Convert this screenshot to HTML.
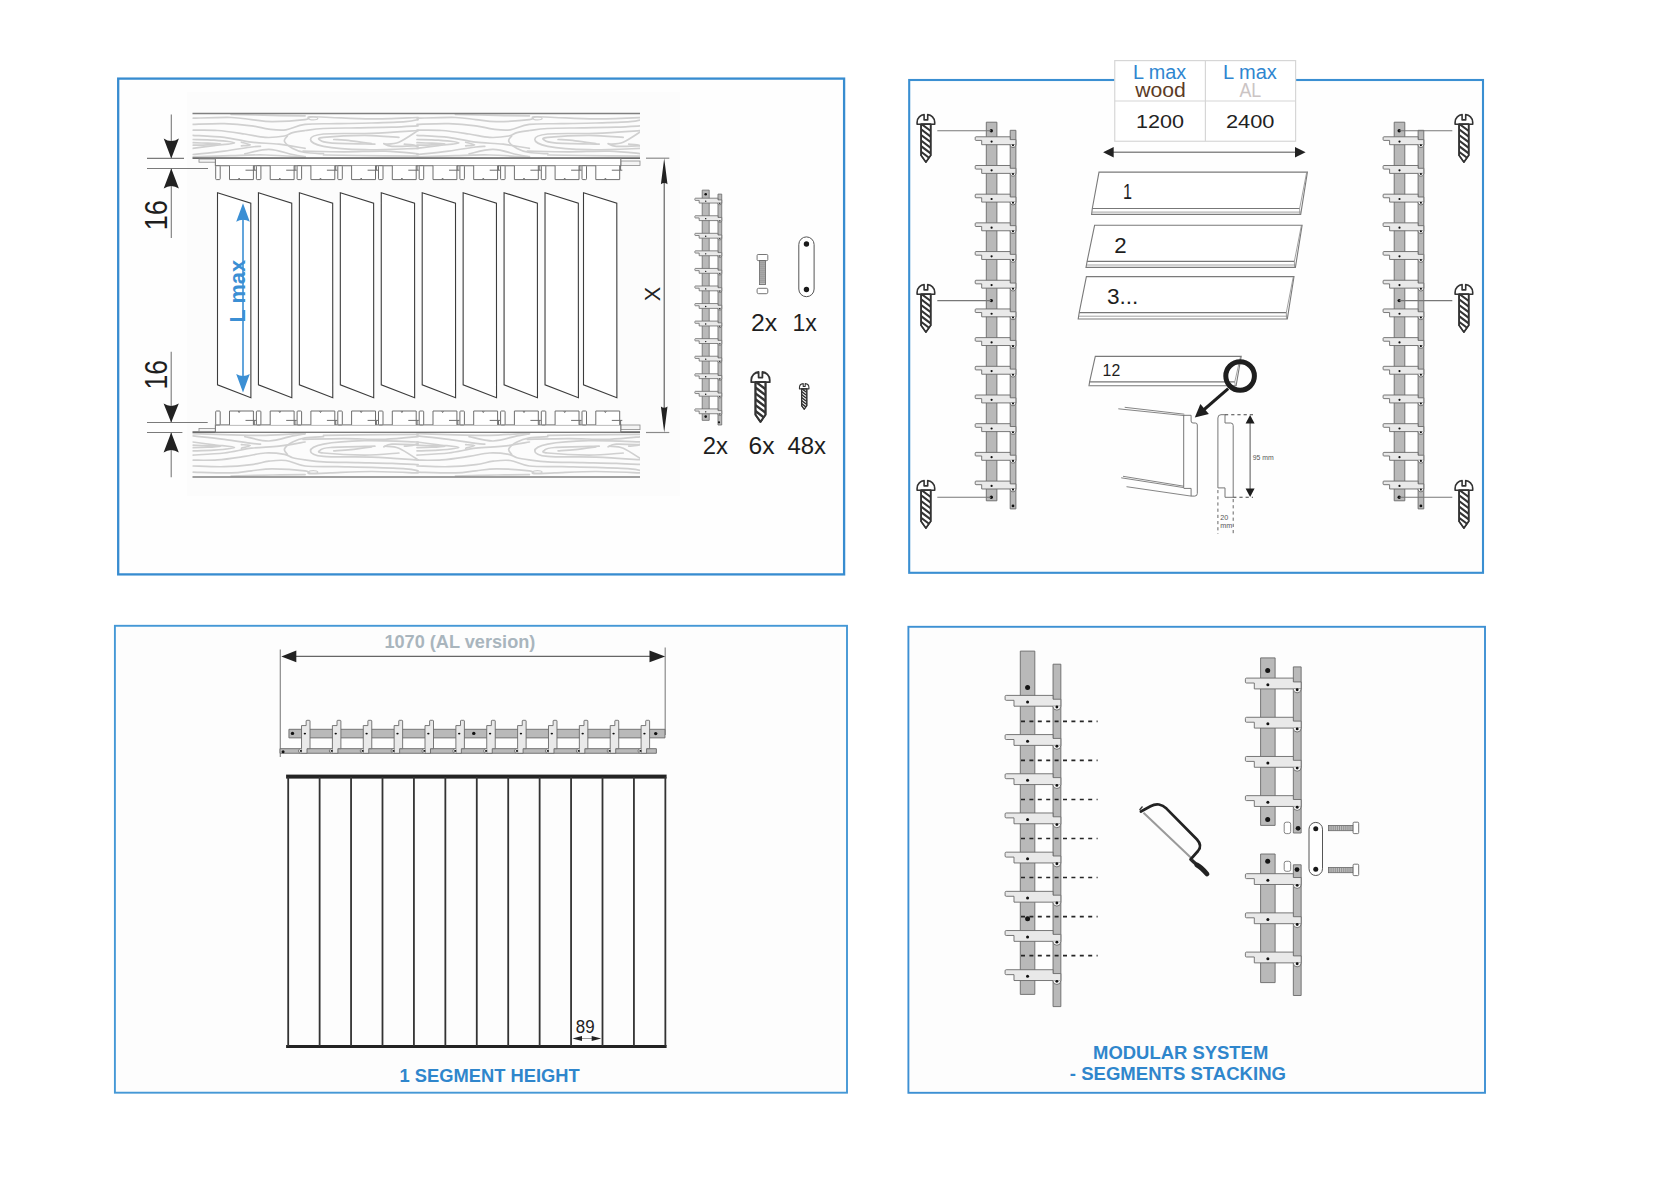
<!DOCTYPE html><html><head><meta charset="utf-8"><title>Assembly</title><style>html,body{margin:0;padding:0;background:#fff;width:1680px;height:1188px;overflow:hidden;}svg{display:block;font-family:"Liberation Sans",sans-serif;}</style></head><body><svg width="1680" height="1188" viewBox="0 0 1680 1188"><rect x="0" y="0" width="1680" height="1188" fill="#ffffff"/><rect x="118.2" y="78.6" width="725.9" height="495.8" fill="#fefefe" stroke="#378cd0" stroke-width="2.3" /><rect x="909.2" y="80" width="573.8" height="492.8" fill="#fefefe" stroke="#3a8fd2" stroke-width="2.1" /><rect x="114.9" y="625.8" width="732.1" height="466.9" fill="#fdfdfd" stroke="#4598d6" stroke-width="1.9" /><rect x="908.4" y="626.8" width="576.6" height="466" fill="#fdfdfd" stroke="#3d90d3" stroke-width="1.9" /><rect x="187" y="92" width="493" height="404" fill="#fcfcfc" stroke="none" stroke-width="1" /><g transform="translate(0,113.2)" ><g clip-path="url(#wclip)"><g transform="translate(192.5,0)" ><path d="M0.2,5 C6.6,4.88 28.8,4.07 38.6,4.3 C48.4,4.53 52.15,5.72 59,6.4 C65.85,7.08 70.77,8.4 79.7,8.4 C88.63,8.4 106.33,7.2 112.6,6.4 C118.87,5.6 113.08,3.95 117.3,3.6 C121.52,3.25 127.62,3.95 137.9,4.3 C148.18,4.65 164.38,5.7 179,5.7 C193.62,5.7 217.83,4.53 225.6,4.3" fill="none" stroke="#d0d0d0" stroke-width="1.7" stroke-linecap="round"/><path d="M38.6,1.2 C45.5,1.37 67.67,1.97 80,2.2 C92.33,2.43 107.17,2.53 112.6,2.6" fill="none" stroke="#d0d0d0" stroke-width="1.7" stroke-linecap="round"/><path d="M0.2,11.2 C5.45,11.08 21.9,10.27 31.7,10.5 C41.5,10.73 51.57,11.68 59,12.6 C66.43,13.52 70.57,15.32 76.3,16 C82.03,16.68 87.35,17.5 93.4,16.7 C99.45,15.9 104.05,12.23 112.6,11.2 C121.15,10.17 133.63,10.73 144.7,10.5 C155.77,10.27 167.58,10.15 179,9.8 C190.42,9.45 205.43,8.97 213.2,8.4 C220.97,7.83 223.53,6.73 225.6,6.4" fill="none" stroke="#d0d0d0" stroke-width="1.7" stroke-linecap="round"/><path d="M0.2,17 C4.33,17.05 16.32,16.67 25,17.3 C33.68,17.93 44.33,19.65 52.3,20.8 C60.27,21.95 66.18,23.87 72.8,24.2 C79.42,24.53 87.43,23.6 92,22.8 C96.57,22 96.77,20.32 100.2,19.4 C103.63,18.48 107.47,17.98 112.6,17.3 C117.73,16.62 122.22,15.75 131,15.3 C139.78,14.85 153.88,14.83 165.3,14.6 C176.72,14.37 189.45,14.23 199.5,13.9 C209.55,13.57 221.25,12.82 225.6,12.6" fill="none" stroke="#d0d0d0" stroke-width="1.7" stroke-linecap="round"/><path d="M0.2,22.1 C5.45,22.45 21.9,23.05 31.7,24.2 C41.5,25.35 49.87,27.87 59,29 C68.13,30.13 77.57,29.97 86.5,31 C95.43,32.03 108.25,34.5 112.6,35.2" fill="none" stroke="#d0d0d0" stroke-width="1.7" stroke-linecap="round"/><path d="M0.2,26.3 C3.75,26.42 14.53,26.43 21.5,27 C28.47,27.57 42,28.8 42,29.7 C42,30.6 28.47,31.48 21.5,32.4 C14.53,33.32 3.75,34.73 0.2,35.2" fill="none" stroke="#d0d0d0" stroke-width="1.7" stroke-linecap="round"/><path d="M0.2,29.5 C2.67,29.58 10.37,29.82 15,30 C19.63,30.18 28,30.33 28,30.6 C28,30.87 19.63,31.37 15,31.6 C10.37,31.83 2.67,31.93 0.2,32" fill="none" stroke="#d0d0d0" stroke-width="1.7" stroke-linecap="round"/><path d="M0.2,41.3 C5.45,40.73 21.9,39.15 31.7,37.9 C41.5,36.65 52.95,34.6 59,33.8 C65.05,33 66.5,33.22 68,33.1" fill="none" stroke="#d0d0d0" stroke-width="1.7" stroke-linecap="round"/><path d="M48.9,29 C50.38,29.45 57.8,31.1 57.8,31.7 C57.8,32.3 50.38,32.45 48.9,32.6" fill="none" stroke="#d0d0d0" stroke-width="1.7" stroke-linecap="round"/><path d="M52.3,40.6 C56.3,39.87 68.32,36.08 76.3,36.2 C84.28,36.32 94.15,40.1 100.2,41.3 C106.25,42.5 110.53,43.05 112.6,43.4" fill="none" stroke="#d0d0d0" stroke-width="1.7" stroke-linecap="round"/><path d="M0.2,43.6 C6.6,43.4 26.5,42.7 38.6,42.4 C50.7,42.1 60.47,41.53 72.8,41.8 C85.13,42.07 105.97,43.63 112.6,44" fill="none" stroke="#d0d0d0" stroke-width="1.7" stroke-linecap="round"/><path d="M94.8,22.8 C94.33,23.72 91.1,26.23 92,28.3 C92.9,30.37 96.77,33.37 100.2,35.2 C103.63,37.03 107.47,38.42 112.6,39.3 C117.73,40.18 127.93,40.3 131,40.5" fill="none" stroke="#d0d0d0" stroke-width="1.7" stroke-linecap="round"/><path d="M225.6,17.3 C217.83,17.77 194.77,19.52 179,20.1 C163.23,20.68 141.17,19.77 131,20.8 C120.83,21.83 118,24.25 118,26.3 C118,28.35 121.98,31.4 131,33.1 C140.02,34.8 156.33,36.15 172.1,36.5 C187.87,36.85 216.68,35.42 225.6,35.2" fill="none" stroke="#d0d0d0" stroke-width="1.7" stroke-linecap="round"/><path d="M206.4,24.2 C200.68,23.85 184.67,22.1 172.1,22.1 C159.53,22.1 138.42,23.4 131,24.2 C123.58,25 126.45,25.98 127.6,26.9 C128.75,27.82 128.77,29.02 137.9,29.7 C147.03,30.38 174.98,30.78 182.4,31" fill="none" stroke="#d0d0d0" stroke-width="1.7" stroke-linecap="round"/><path d="M141.3,26.3 C144.15,26.52 152.12,26.92 158.4,27.6 C164.68,28.28 175.57,29.93 179,30.4" fill="none" stroke="#d0d0d0" stroke-width="1.7" stroke-linecap="round"/><path d="M192.7,31 C194.98,30.67 200.92,31.28 206.4,29 C211.88,26.72 222.4,19.25 225.6,17.3" fill="none" stroke="#d0d0d0" stroke-width="1.7" stroke-linecap="round"/><path d="M191.3,30.4 C192.67,30.85 193.78,32.77 199.5,33.1 C205.22,33.43 221.25,32.52 225.6,32.4" fill="none" stroke="#d0d0d0" stroke-width="1.7" stroke-linecap="round"/><path d="M211.9,31 C213.27,31.12 217.82,31.23 220.1,31.7 C222.38,32.17 224.68,33.45 225.6,33.8" fill="none" stroke="#d0d0d0" stroke-width="1.7" stroke-linecap="round"/><path d="M110.5,37.9 C117.35,38.02 137.9,38.6 151.6,38.6 C165.3,38.6 180.37,37.57 192.7,37.9 C205.03,38.23 220.12,40.15 225.6,40.6" fill="none" stroke="#d0d0d0" stroke-width="1.7" stroke-linecap="round"/><path d="M131,41.8 C136.72,41.88 149.53,42.12 165.3,42.3 C181.07,42.48 215.55,42.8 225.6,42.9" fill="none" stroke="#d0d0d0" stroke-width="1.7" stroke-linecap="round"/><ellipse cx="120.8" cy="5.2" rx="4.5" ry="1.4" fill="none" stroke="#d0d0d0" stroke-width="1.2"/></g><g transform="translate(416.8,0)" ><path d="M0.2,5 C6.6,4.88 28.8,4.07 38.6,4.3 C48.4,4.53 52.15,5.72 59,6.4 C65.85,7.08 70.77,8.4 79.7,8.4 C88.63,8.4 106.33,7.2 112.6,6.4 C118.87,5.6 113.08,3.95 117.3,3.6 C121.52,3.25 127.62,3.95 137.9,4.3 C148.18,4.65 164.38,5.7 179,5.7 C193.62,5.7 217.83,4.53 225.6,4.3" fill="none" stroke="#d0d0d0" stroke-width="1.7" stroke-linecap="round"/><path d="M38.6,1.2 C45.5,1.37 67.67,1.97 80,2.2 C92.33,2.43 107.17,2.53 112.6,2.6" fill="none" stroke="#d0d0d0" stroke-width="1.7" stroke-linecap="round"/><path d="M0.2,11.2 C5.45,11.08 21.9,10.27 31.7,10.5 C41.5,10.73 51.57,11.68 59,12.6 C66.43,13.52 70.57,15.32 76.3,16 C82.03,16.68 87.35,17.5 93.4,16.7 C99.45,15.9 104.05,12.23 112.6,11.2 C121.15,10.17 133.63,10.73 144.7,10.5 C155.77,10.27 167.58,10.15 179,9.8 C190.42,9.45 205.43,8.97 213.2,8.4 C220.97,7.83 223.53,6.73 225.6,6.4" fill="none" stroke="#d0d0d0" stroke-width="1.7" stroke-linecap="round"/><path d="M0.2,17 C4.33,17.05 16.32,16.67 25,17.3 C33.68,17.93 44.33,19.65 52.3,20.8 C60.27,21.95 66.18,23.87 72.8,24.2 C79.42,24.53 87.43,23.6 92,22.8 C96.57,22 96.77,20.32 100.2,19.4 C103.63,18.48 107.47,17.98 112.6,17.3 C117.73,16.62 122.22,15.75 131,15.3 C139.78,14.85 153.88,14.83 165.3,14.6 C176.72,14.37 189.45,14.23 199.5,13.9 C209.55,13.57 221.25,12.82 225.6,12.6" fill="none" stroke="#d0d0d0" stroke-width="1.7" stroke-linecap="round"/><path d="M0.2,22.1 C5.45,22.45 21.9,23.05 31.7,24.2 C41.5,25.35 49.87,27.87 59,29 C68.13,30.13 77.57,29.97 86.5,31 C95.43,32.03 108.25,34.5 112.6,35.2" fill="none" stroke="#d0d0d0" stroke-width="1.7" stroke-linecap="round"/><path d="M0.2,26.3 C3.75,26.42 14.53,26.43 21.5,27 C28.47,27.57 42,28.8 42,29.7 C42,30.6 28.47,31.48 21.5,32.4 C14.53,33.32 3.75,34.73 0.2,35.2" fill="none" stroke="#d0d0d0" stroke-width="1.7" stroke-linecap="round"/><path d="M0.2,29.5 C2.67,29.58 10.37,29.82 15,30 C19.63,30.18 28,30.33 28,30.6 C28,30.87 19.63,31.37 15,31.6 C10.37,31.83 2.67,31.93 0.2,32" fill="none" stroke="#d0d0d0" stroke-width="1.7" stroke-linecap="round"/><path d="M0.2,41.3 C5.45,40.73 21.9,39.15 31.7,37.9 C41.5,36.65 52.95,34.6 59,33.8 C65.05,33 66.5,33.22 68,33.1" fill="none" stroke="#d0d0d0" stroke-width="1.7" stroke-linecap="round"/><path d="M48.9,29 C50.38,29.45 57.8,31.1 57.8,31.7 C57.8,32.3 50.38,32.45 48.9,32.6" fill="none" stroke="#d0d0d0" stroke-width="1.7" stroke-linecap="round"/><path d="M52.3,40.6 C56.3,39.87 68.32,36.08 76.3,36.2 C84.28,36.32 94.15,40.1 100.2,41.3 C106.25,42.5 110.53,43.05 112.6,43.4" fill="none" stroke="#d0d0d0" stroke-width="1.7" stroke-linecap="round"/><path d="M0.2,43.6 C6.6,43.4 26.5,42.7 38.6,42.4 C50.7,42.1 60.47,41.53 72.8,41.8 C85.13,42.07 105.97,43.63 112.6,44" fill="none" stroke="#d0d0d0" stroke-width="1.7" stroke-linecap="round"/><path d="M94.8,22.8 C94.33,23.72 91.1,26.23 92,28.3 C92.9,30.37 96.77,33.37 100.2,35.2 C103.63,37.03 107.47,38.42 112.6,39.3 C117.73,40.18 127.93,40.3 131,40.5" fill="none" stroke="#d0d0d0" stroke-width="1.7" stroke-linecap="round"/><path d="M225.6,17.3 C217.83,17.77 194.77,19.52 179,20.1 C163.23,20.68 141.17,19.77 131,20.8 C120.83,21.83 118,24.25 118,26.3 C118,28.35 121.98,31.4 131,33.1 C140.02,34.8 156.33,36.15 172.1,36.5 C187.87,36.85 216.68,35.42 225.6,35.2" fill="none" stroke="#d0d0d0" stroke-width="1.7" stroke-linecap="round"/><path d="M206.4,24.2 C200.68,23.85 184.67,22.1 172.1,22.1 C159.53,22.1 138.42,23.4 131,24.2 C123.58,25 126.45,25.98 127.6,26.9 C128.75,27.82 128.77,29.02 137.9,29.7 C147.03,30.38 174.98,30.78 182.4,31" fill="none" stroke="#d0d0d0" stroke-width="1.7" stroke-linecap="round"/><path d="M141.3,26.3 C144.15,26.52 152.12,26.92 158.4,27.6 C164.68,28.28 175.57,29.93 179,30.4" fill="none" stroke="#d0d0d0" stroke-width="1.7" stroke-linecap="round"/><path d="M192.7,31 C194.98,30.67 200.92,31.28 206.4,29 C211.88,26.72 222.4,19.25 225.6,17.3" fill="none" stroke="#d0d0d0" stroke-width="1.7" stroke-linecap="round"/><path d="M191.3,30.4 C192.67,30.85 193.78,32.77 199.5,33.1 C205.22,33.43 221.25,32.52 225.6,32.4" fill="none" stroke="#d0d0d0" stroke-width="1.7" stroke-linecap="round"/><path d="M211.9,31 C213.27,31.12 217.82,31.23 220.1,31.7 C222.38,32.17 224.68,33.45 225.6,33.8" fill="none" stroke="#d0d0d0" stroke-width="1.7" stroke-linecap="round"/><path d="M110.5,37.9 C117.35,38.02 137.9,38.6 151.6,38.6 C165.3,38.6 180.37,37.57 192.7,37.9 C205.03,38.23 220.12,40.15 225.6,40.6" fill="none" stroke="#d0d0d0" stroke-width="1.7" stroke-linecap="round"/><path d="M131,41.8 C136.72,41.88 149.53,42.12 165.3,42.3 C181.07,42.48 215.55,42.8 225.6,42.9" fill="none" stroke="#d0d0d0" stroke-width="1.7" stroke-linecap="round"/><ellipse cx="120.8" cy="5.2" rx="4.5" ry="1.4" fill="none" stroke="#d0d0d0" stroke-width="1.2"/></g></g><rect x="192.5" y="0" width="447.5" height="45" fill="none" stroke="none" stroke-width="1" /><clipPath id="wclip"><rect x="192.5" y="0" width="447.5" height="45"/></clipPath><path d="M192.5,0.3 H640" fill="none" stroke="#808080" stroke-width="1.5" /><path d="M192.5,45 H640" fill="none" stroke="#6a6a6a" stroke-width="1.7" /></g><g transform="translate(0,477.2) scale(1,-1)" ><g clip-path="url(#wclip)"><g transform="translate(192.5,0)" ><path d="M0.2,5 C6.6,4.88 28.8,4.07 38.6,4.3 C48.4,4.53 52.15,5.72 59,6.4 C65.85,7.08 70.77,8.4 79.7,8.4 C88.63,8.4 106.33,7.2 112.6,6.4 C118.87,5.6 113.08,3.95 117.3,3.6 C121.52,3.25 127.62,3.95 137.9,4.3 C148.18,4.65 164.38,5.7 179,5.7 C193.62,5.7 217.83,4.53 225.6,4.3" fill="none" stroke="#d0d0d0" stroke-width="1.7" stroke-linecap="round"/><path d="M38.6,1.2 C45.5,1.37 67.67,1.97 80,2.2 C92.33,2.43 107.17,2.53 112.6,2.6" fill="none" stroke="#d0d0d0" stroke-width="1.7" stroke-linecap="round"/><path d="M0.2,11.2 C5.45,11.08 21.9,10.27 31.7,10.5 C41.5,10.73 51.57,11.68 59,12.6 C66.43,13.52 70.57,15.32 76.3,16 C82.03,16.68 87.35,17.5 93.4,16.7 C99.45,15.9 104.05,12.23 112.6,11.2 C121.15,10.17 133.63,10.73 144.7,10.5 C155.77,10.27 167.58,10.15 179,9.8 C190.42,9.45 205.43,8.97 213.2,8.4 C220.97,7.83 223.53,6.73 225.6,6.4" fill="none" stroke="#d0d0d0" stroke-width="1.7" stroke-linecap="round"/><path d="M0.2,17 C4.33,17.05 16.32,16.67 25,17.3 C33.68,17.93 44.33,19.65 52.3,20.8 C60.27,21.95 66.18,23.87 72.8,24.2 C79.42,24.53 87.43,23.6 92,22.8 C96.57,22 96.77,20.32 100.2,19.4 C103.63,18.48 107.47,17.98 112.6,17.3 C117.73,16.62 122.22,15.75 131,15.3 C139.78,14.85 153.88,14.83 165.3,14.6 C176.72,14.37 189.45,14.23 199.5,13.9 C209.55,13.57 221.25,12.82 225.6,12.6" fill="none" stroke="#d0d0d0" stroke-width="1.7" stroke-linecap="round"/><path d="M0.2,22.1 C5.45,22.45 21.9,23.05 31.7,24.2 C41.5,25.35 49.87,27.87 59,29 C68.13,30.13 77.57,29.97 86.5,31 C95.43,32.03 108.25,34.5 112.6,35.2" fill="none" stroke="#d0d0d0" stroke-width="1.7" stroke-linecap="round"/><path d="M0.2,26.3 C3.75,26.42 14.53,26.43 21.5,27 C28.47,27.57 42,28.8 42,29.7 C42,30.6 28.47,31.48 21.5,32.4 C14.53,33.32 3.75,34.73 0.2,35.2" fill="none" stroke="#d0d0d0" stroke-width="1.7" stroke-linecap="round"/><path d="M0.2,29.5 C2.67,29.58 10.37,29.82 15,30 C19.63,30.18 28,30.33 28,30.6 C28,30.87 19.63,31.37 15,31.6 C10.37,31.83 2.67,31.93 0.2,32" fill="none" stroke="#d0d0d0" stroke-width="1.7" stroke-linecap="round"/><path d="M0.2,41.3 C5.45,40.73 21.9,39.15 31.7,37.9 C41.5,36.65 52.95,34.6 59,33.8 C65.05,33 66.5,33.22 68,33.1" fill="none" stroke="#d0d0d0" stroke-width="1.7" stroke-linecap="round"/><path d="M48.9,29 C50.38,29.45 57.8,31.1 57.8,31.7 C57.8,32.3 50.38,32.45 48.9,32.6" fill="none" stroke="#d0d0d0" stroke-width="1.7" stroke-linecap="round"/><path d="M52.3,40.6 C56.3,39.87 68.32,36.08 76.3,36.2 C84.28,36.32 94.15,40.1 100.2,41.3 C106.25,42.5 110.53,43.05 112.6,43.4" fill="none" stroke="#d0d0d0" stroke-width="1.7" stroke-linecap="round"/><path d="M0.2,43.6 C6.6,43.4 26.5,42.7 38.6,42.4 C50.7,42.1 60.47,41.53 72.8,41.8 C85.13,42.07 105.97,43.63 112.6,44" fill="none" stroke="#d0d0d0" stroke-width="1.7" stroke-linecap="round"/><path d="M94.8,22.8 C94.33,23.72 91.1,26.23 92,28.3 C92.9,30.37 96.77,33.37 100.2,35.2 C103.63,37.03 107.47,38.42 112.6,39.3 C117.73,40.18 127.93,40.3 131,40.5" fill="none" stroke="#d0d0d0" stroke-width="1.7" stroke-linecap="round"/><path d="M225.6,17.3 C217.83,17.77 194.77,19.52 179,20.1 C163.23,20.68 141.17,19.77 131,20.8 C120.83,21.83 118,24.25 118,26.3 C118,28.35 121.98,31.4 131,33.1 C140.02,34.8 156.33,36.15 172.1,36.5 C187.87,36.85 216.68,35.42 225.6,35.2" fill="none" stroke="#d0d0d0" stroke-width="1.7" stroke-linecap="round"/><path d="M206.4,24.2 C200.68,23.85 184.67,22.1 172.1,22.1 C159.53,22.1 138.42,23.4 131,24.2 C123.58,25 126.45,25.98 127.6,26.9 C128.75,27.82 128.77,29.02 137.9,29.7 C147.03,30.38 174.98,30.78 182.4,31" fill="none" stroke="#d0d0d0" stroke-width="1.7" stroke-linecap="round"/><path d="M141.3,26.3 C144.15,26.52 152.12,26.92 158.4,27.6 C164.68,28.28 175.57,29.93 179,30.4" fill="none" stroke="#d0d0d0" stroke-width="1.7" stroke-linecap="round"/><path d="M192.7,31 C194.98,30.67 200.92,31.28 206.4,29 C211.88,26.72 222.4,19.25 225.6,17.3" fill="none" stroke="#d0d0d0" stroke-width="1.7" stroke-linecap="round"/><path d="M191.3,30.4 C192.67,30.85 193.78,32.77 199.5,33.1 C205.22,33.43 221.25,32.52 225.6,32.4" fill="none" stroke="#d0d0d0" stroke-width="1.7" stroke-linecap="round"/><path d="M211.9,31 C213.27,31.12 217.82,31.23 220.1,31.7 C222.38,32.17 224.68,33.45 225.6,33.8" fill="none" stroke="#d0d0d0" stroke-width="1.7" stroke-linecap="round"/><path d="M110.5,37.9 C117.35,38.02 137.9,38.6 151.6,38.6 C165.3,38.6 180.37,37.57 192.7,37.9 C205.03,38.23 220.12,40.15 225.6,40.6" fill="none" stroke="#d0d0d0" stroke-width="1.7" stroke-linecap="round"/><path d="M131,41.8 C136.72,41.88 149.53,42.12 165.3,42.3 C181.07,42.48 215.55,42.8 225.6,42.9" fill="none" stroke="#d0d0d0" stroke-width="1.7" stroke-linecap="round"/><ellipse cx="120.8" cy="5.2" rx="4.5" ry="1.4" fill="none" stroke="#d0d0d0" stroke-width="1.2"/></g><g transform="translate(416.8,0)" ><path d="M0.2,5 C6.6,4.88 28.8,4.07 38.6,4.3 C48.4,4.53 52.15,5.72 59,6.4 C65.85,7.08 70.77,8.4 79.7,8.4 C88.63,8.4 106.33,7.2 112.6,6.4 C118.87,5.6 113.08,3.95 117.3,3.6 C121.52,3.25 127.62,3.95 137.9,4.3 C148.18,4.65 164.38,5.7 179,5.7 C193.62,5.7 217.83,4.53 225.6,4.3" fill="none" stroke="#d0d0d0" stroke-width="1.7" stroke-linecap="round"/><path d="M38.6,1.2 C45.5,1.37 67.67,1.97 80,2.2 C92.33,2.43 107.17,2.53 112.6,2.6" fill="none" stroke="#d0d0d0" stroke-width="1.7" stroke-linecap="round"/><path d="M0.2,11.2 C5.45,11.08 21.9,10.27 31.7,10.5 C41.5,10.73 51.57,11.68 59,12.6 C66.43,13.52 70.57,15.32 76.3,16 C82.03,16.68 87.35,17.5 93.4,16.7 C99.45,15.9 104.05,12.23 112.6,11.2 C121.15,10.17 133.63,10.73 144.7,10.5 C155.77,10.27 167.58,10.15 179,9.8 C190.42,9.45 205.43,8.97 213.2,8.4 C220.97,7.83 223.53,6.73 225.6,6.4" fill="none" stroke="#d0d0d0" stroke-width="1.7" stroke-linecap="round"/><path d="M0.2,17 C4.33,17.05 16.32,16.67 25,17.3 C33.68,17.93 44.33,19.65 52.3,20.8 C60.27,21.95 66.18,23.87 72.8,24.2 C79.42,24.53 87.43,23.6 92,22.8 C96.57,22 96.77,20.32 100.2,19.4 C103.63,18.48 107.47,17.98 112.6,17.3 C117.73,16.62 122.22,15.75 131,15.3 C139.78,14.85 153.88,14.83 165.3,14.6 C176.72,14.37 189.45,14.23 199.5,13.9 C209.55,13.57 221.25,12.82 225.6,12.6" fill="none" stroke="#d0d0d0" stroke-width="1.7" stroke-linecap="round"/><path d="M0.2,22.1 C5.45,22.45 21.9,23.05 31.7,24.2 C41.5,25.35 49.87,27.87 59,29 C68.13,30.13 77.57,29.97 86.5,31 C95.43,32.03 108.25,34.5 112.6,35.2" fill="none" stroke="#d0d0d0" stroke-width="1.7" stroke-linecap="round"/><path d="M0.2,26.3 C3.75,26.42 14.53,26.43 21.5,27 C28.47,27.57 42,28.8 42,29.7 C42,30.6 28.47,31.48 21.5,32.4 C14.53,33.32 3.75,34.73 0.2,35.2" fill="none" stroke="#d0d0d0" stroke-width="1.7" stroke-linecap="round"/><path d="M0.2,29.5 C2.67,29.58 10.37,29.82 15,30 C19.63,30.18 28,30.33 28,30.6 C28,30.87 19.63,31.37 15,31.6 C10.37,31.83 2.67,31.93 0.2,32" fill="none" stroke="#d0d0d0" stroke-width="1.7" stroke-linecap="round"/><path d="M0.2,41.3 C5.45,40.73 21.9,39.15 31.7,37.9 C41.5,36.65 52.95,34.6 59,33.8 C65.05,33 66.5,33.22 68,33.1" fill="none" stroke="#d0d0d0" stroke-width="1.7" stroke-linecap="round"/><path d="M48.9,29 C50.38,29.45 57.8,31.1 57.8,31.7 C57.8,32.3 50.38,32.45 48.9,32.6" fill="none" stroke="#d0d0d0" stroke-width="1.7" stroke-linecap="round"/><path d="M52.3,40.6 C56.3,39.87 68.32,36.08 76.3,36.2 C84.28,36.32 94.15,40.1 100.2,41.3 C106.25,42.5 110.53,43.05 112.6,43.4" fill="none" stroke="#d0d0d0" stroke-width="1.7" stroke-linecap="round"/><path d="M0.2,43.6 C6.6,43.4 26.5,42.7 38.6,42.4 C50.7,42.1 60.47,41.53 72.8,41.8 C85.13,42.07 105.97,43.63 112.6,44" fill="none" stroke="#d0d0d0" stroke-width="1.7" stroke-linecap="round"/><path d="M94.8,22.8 C94.33,23.72 91.1,26.23 92,28.3 C92.9,30.37 96.77,33.37 100.2,35.2 C103.63,37.03 107.47,38.42 112.6,39.3 C117.73,40.18 127.93,40.3 131,40.5" fill="none" stroke="#d0d0d0" stroke-width="1.7" stroke-linecap="round"/><path d="M225.6,17.3 C217.83,17.77 194.77,19.52 179,20.1 C163.23,20.68 141.17,19.77 131,20.8 C120.83,21.83 118,24.25 118,26.3 C118,28.35 121.98,31.4 131,33.1 C140.02,34.8 156.33,36.15 172.1,36.5 C187.87,36.85 216.68,35.42 225.6,35.2" fill="none" stroke="#d0d0d0" stroke-width="1.7" stroke-linecap="round"/><path d="M206.4,24.2 C200.68,23.85 184.67,22.1 172.1,22.1 C159.53,22.1 138.42,23.4 131,24.2 C123.58,25 126.45,25.98 127.6,26.9 C128.75,27.82 128.77,29.02 137.9,29.7 C147.03,30.38 174.98,30.78 182.4,31" fill="none" stroke="#d0d0d0" stroke-width="1.7" stroke-linecap="round"/><path d="M141.3,26.3 C144.15,26.52 152.12,26.92 158.4,27.6 C164.68,28.28 175.57,29.93 179,30.4" fill="none" stroke="#d0d0d0" stroke-width="1.7" stroke-linecap="round"/><path d="M192.7,31 C194.98,30.67 200.92,31.28 206.4,29 C211.88,26.72 222.4,19.25 225.6,17.3" fill="none" stroke="#d0d0d0" stroke-width="1.7" stroke-linecap="round"/><path d="M191.3,30.4 C192.67,30.85 193.78,32.77 199.5,33.1 C205.22,33.43 221.25,32.52 225.6,32.4" fill="none" stroke="#d0d0d0" stroke-width="1.7" stroke-linecap="round"/><path d="M211.9,31 C213.27,31.12 217.82,31.23 220.1,31.7 C222.38,32.17 224.68,33.45 225.6,33.8" fill="none" stroke="#d0d0d0" stroke-width="1.7" stroke-linecap="round"/><path d="M110.5,37.9 C117.35,38.02 137.9,38.6 151.6,38.6 C165.3,38.6 180.37,37.57 192.7,37.9 C205.03,38.23 220.12,40.15 225.6,40.6" fill="none" stroke="#d0d0d0" stroke-width="1.7" stroke-linecap="round"/><path d="M131,41.8 C136.72,41.88 149.53,42.12 165.3,42.3 C181.07,42.48 215.55,42.8 225.6,42.9" fill="none" stroke="#d0d0d0" stroke-width="1.7" stroke-linecap="round"/><ellipse cx="120.8" cy="5.2" rx="4.5" ry="1.4" fill="none" stroke="#d0d0d0" stroke-width="1.2"/></g></g><rect x="192.5" y="0" width="447.5" height="45" fill="none" stroke="none" stroke-width="1" /><clipPath id="wclip"><rect x="192.5" y="0" width="447.5" height="45"/></clipPath><path d="M192.5,0.3 H640" fill="none" stroke="#808080" stroke-width="1.5" /><path d="M192.5,45 H640" fill="none" stroke="#6a6a6a" stroke-width="1.7" /></g><g transform="translate(215.4,158.4)" ><rect x="-16.4" y="0.6" width="16.4" height="3.2" fill="#f4f4f4" stroke="#8a8a8a" stroke-width="0.8" /><rect x="405.4" y="2.6" width="19.2" height="4.6" fill="#f4f4f4" stroke="#8a8a8a" stroke-width="0.8" /><rect x="0" y="0" width="405.4" height="7.3" fill="#fff" stroke="#7a7a7a" stroke-width="1.1" /><rect x="0.3" y="7.3" width="4.5" height="13.9" rx="0.8" fill="#fff" stroke="#6f6f6f" stroke-width="1" /><path d="M14.1,7.3 V21.2 H38 V7.3" fill="#fff" stroke="#6f6f6f" stroke-width="1" /><path d="M30.1,11.8 H40.6 M38.9,7.3 V11.8" fill="none" stroke="#6f6f6f" stroke-width="1" /><path d="M22.8,21.2 L23.7,19.6 L24.6,21.2" fill="none" stroke="#6f6f6f" stroke-width="0.9" /><rect x="41" y="7.3" width="4.5" height="13.9" rx="0.8" fill="#fff" stroke="#6f6f6f" stroke-width="1" /><path d="M54.8,7.3 V21.2 H78.7 V7.3" fill="#fff" stroke="#6f6f6f" stroke-width="1" /><path d="M70.8,11.8 H81.3 M79.6,7.3 V11.8" fill="none" stroke="#6f6f6f" stroke-width="1" /><path d="M63.5,21.2 L64.4,19.6 L65.3,21.2" fill="none" stroke="#6f6f6f" stroke-width="0.9" /><rect x="81.7" y="7.3" width="4.5" height="13.9" rx="0.8" fill="#fff" stroke="#6f6f6f" stroke-width="1" /><path d="M95.5,7.3 V21.2 H119.4 V7.3" fill="#fff" stroke="#6f6f6f" stroke-width="1" /><path d="M111.5,11.8 H122 M120.3,7.3 V11.8" fill="none" stroke="#6f6f6f" stroke-width="1" /><path d="M104.2,21.2 L105.1,19.6 L106,21.2" fill="none" stroke="#6f6f6f" stroke-width="0.9" /><rect x="122.4" y="7.3" width="4.5" height="13.9" rx="0.8" fill="#fff" stroke="#6f6f6f" stroke-width="1" /><path d="M136.2,7.3 V21.2 H160.1 V7.3" fill="#fff" stroke="#6f6f6f" stroke-width="1" /><path d="M152.2,11.8 H162.7 M161,7.3 V11.8" fill="none" stroke="#6f6f6f" stroke-width="1" /><path d="M144.9,21.2 L145.8,19.6 L146.7,21.2" fill="none" stroke="#6f6f6f" stroke-width="0.9" /><rect x="163.1" y="7.3" width="4.5" height="13.9" rx="0.8" fill="#fff" stroke="#6f6f6f" stroke-width="1" /><path d="M176.9,7.3 V21.2 H200.8 V7.3" fill="#fff" stroke="#6f6f6f" stroke-width="1" /><path d="M192.9,11.8 H203.4 M201.7,7.3 V11.8" fill="none" stroke="#6f6f6f" stroke-width="1" /><path d="M185.6,21.2 L186.5,19.6 L187.4,21.2" fill="none" stroke="#6f6f6f" stroke-width="0.9" /><rect x="203.8" y="7.3" width="4.5" height="13.9" rx="0.8" fill="#fff" stroke="#6f6f6f" stroke-width="1" /><path d="M217.6,7.3 V21.2 H241.5 V7.3" fill="#fff" stroke="#6f6f6f" stroke-width="1" /><path d="M233.6,11.8 H244.1 M242.4,7.3 V11.8" fill="none" stroke="#6f6f6f" stroke-width="1" /><path d="M226.3,21.2 L227.2,19.6 L228.1,21.2" fill="none" stroke="#6f6f6f" stroke-width="0.9" /><rect x="244.5" y="7.3" width="4.5" height="13.9" rx="0.8" fill="#fff" stroke="#6f6f6f" stroke-width="1" /><path d="M258.3,7.3 V21.2 H282.2 V7.3" fill="#fff" stroke="#6f6f6f" stroke-width="1" /><path d="M274.3,11.8 H284.8 M283.1,7.3 V11.8" fill="none" stroke="#6f6f6f" stroke-width="1" /><path d="M267,21.2 L267.9,19.6 L268.8,21.2" fill="none" stroke="#6f6f6f" stroke-width="0.9" /><rect x="285.2" y="7.3" width="4.5" height="13.9" rx="0.8" fill="#fff" stroke="#6f6f6f" stroke-width="1" /><path d="M299,7.3 V21.2 H322.9 V7.3" fill="#fff" stroke="#6f6f6f" stroke-width="1" /><path d="M315,11.8 H325.5 M323.8,7.3 V11.8" fill="none" stroke="#6f6f6f" stroke-width="1" /><path d="M307.7,21.2 L308.6,19.6 L309.5,21.2" fill="none" stroke="#6f6f6f" stroke-width="0.9" /><rect x="325.9" y="7.3" width="4.5" height="13.9" rx="0.8" fill="#fff" stroke="#6f6f6f" stroke-width="1" /><path d="M339.7,7.3 V21.2 H363.6 V7.3" fill="#fff" stroke="#6f6f6f" stroke-width="1" /><path d="M355.7,11.8 H366.2 M364.5,7.3 V11.8" fill="none" stroke="#6f6f6f" stroke-width="1" /><path d="M348.4,21.2 L349.3,19.6 L350.2,21.2" fill="none" stroke="#6f6f6f" stroke-width="0.9" /><rect x="366.6" y="7.3" width="4.5" height="13.9" rx="0.8" fill="#fff" stroke="#6f6f6f" stroke-width="1" /><path d="M380.4,7.3 V21.2 H404.3 V7.3" fill="#fff" stroke="#6f6f6f" stroke-width="1" /><path d="M396.4,11.8 H406.9 M405.2,7.3 V11.8" fill="none" stroke="#6f6f6f" stroke-width="1" /><path d="M389.1,21.2 L390,19.6 L390.9,21.2" fill="none" stroke="#6f6f6f" stroke-width="0.9" /></g><g transform="translate(215.4,432.2) scale(1,-1)" ><rect x="-16.4" y="0.6" width="16.4" height="3.2" fill="#f4f4f4" stroke="#8a8a8a" stroke-width="0.8" /><rect x="405.4" y="2.6" width="19.2" height="4.6" fill="#f4f4f4" stroke="#8a8a8a" stroke-width="0.8" /><rect x="0" y="0" width="405.4" height="7.3" fill="#fff" stroke="#7a7a7a" stroke-width="1.1" /><rect x="0.3" y="7.3" width="4.5" height="13.9" rx="0.8" fill="#fff" stroke="#6f6f6f" stroke-width="1" /><path d="M14.1,7.3 V21.2 H38 V7.3" fill="#fff" stroke="#6f6f6f" stroke-width="1" /><path d="M30.1,11.8 H40.6 M38.9,7.3 V11.8" fill="none" stroke="#6f6f6f" stroke-width="1" /><path d="M22.8,21.2 L23.7,19.6 L24.6,21.2" fill="none" stroke="#6f6f6f" stroke-width="0.9" /><rect x="41" y="7.3" width="4.5" height="13.9" rx="0.8" fill="#fff" stroke="#6f6f6f" stroke-width="1" /><path d="M54.8,7.3 V21.2 H78.7 V7.3" fill="#fff" stroke="#6f6f6f" stroke-width="1" /><path d="M70.8,11.8 H81.3 M79.6,7.3 V11.8" fill="none" stroke="#6f6f6f" stroke-width="1" /><path d="M63.5,21.2 L64.4,19.6 L65.3,21.2" fill="none" stroke="#6f6f6f" stroke-width="0.9" /><rect x="81.7" y="7.3" width="4.5" height="13.9" rx="0.8" fill="#fff" stroke="#6f6f6f" stroke-width="1" /><path d="M95.5,7.3 V21.2 H119.4 V7.3" fill="#fff" stroke="#6f6f6f" stroke-width="1" /><path d="M111.5,11.8 H122 M120.3,7.3 V11.8" fill="none" stroke="#6f6f6f" stroke-width="1" /><path d="M104.2,21.2 L105.1,19.6 L106,21.2" fill="none" stroke="#6f6f6f" stroke-width="0.9" /><rect x="122.4" y="7.3" width="4.5" height="13.9" rx="0.8" fill="#fff" stroke="#6f6f6f" stroke-width="1" /><path d="M136.2,7.3 V21.2 H160.1 V7.3" fill="#fff" stroke="#6f6f6f" stroke-width="1" /><path d="M152.2,11.8 H162.7 M161,7.3 V11.8" fill="none" stroke="#6f6f6f" stroke-width="1" /><path d="M144.9,21.2 L145.8,19.6 L146.7,21.2" fill="none" stroke="#6f6f6f" stroke-width="0.9" /><rect x="163.1" y="7.3" width="4.5" height="13.9" rx="0.8" fill="#fff" stroke="#6f6f6f" stroke-width="1" /><path d="M176.9,7.3 V21.2 H200.8 V7.3" fill="#fff" stroke="#6f6f6f" stroke-width="1" /><path d="M192.9,11.8 H203.4 M201.7,7.3 V11.8" fill="none" stroke="#6f6f6f" stroke-width="1" /><path d="M185.6,21.2 L186.5,19.6 L187.4,21.2" fill="none" stroke="#6f6f6f" stroke-width="0.9" /><rect x="203.8" y="7.3" width="4.5" height="13.9" rx="0.8" fill="#fff" stroke="#6f6f6f" stroke-width="1" /><path d="M217.6,7.3 V21.2 H241.5 V7.3" fill="#fff" stroke="#6f6f6f" stroke-width="1" /><path d="M233.6,11.8 H244.1 M242.4,7.3 V11.8" fill="none" stroke="#6f6f6f" stroke-width="1" /><path d="M226.3,21.2 L227.2,19.6 L228.1,21.2" fill="none" stroke="#6f6f6f" stroke-width="0.9" /><rect x="244.5" y="7.3" width="4.5" height="13.9" rx="0.8" fill="#fff" stroke="#6f6f6f" stroke-width="1" /><path d="M258.3,7.3 V21.2 H282.2 V7.3" fill="#fff" stroke="#6f6f6f" stroke-width="1" /><path d="M274.3,11.8 H284.8 M283.1,7.3 V11.8" fill="none" stroke="#6f6f6f" stroke-width="1" /><path d="M267,21.2 L267.9,19.6 L268.8,21.2" fill="none" stroke="#6f6f6f" stroke-width="0.9" /><rect x="285.2" y="7.3" width="4.5" height="13.9" rx="0.8" fill="#fff" stroke="#6f6f6f" stroke-width="1" /><path d="M299,7.3 V21.2 H322.9 V7.3" fill="#fff" stroke="#6f6f6f" stroke-width="1" /><path d="M315,11.8 H325.5 M323.8,7.3 V11.8" fill="none" stroke="#6f6f6f" stroke-width="1" /><path d="M307.7,21.2 L308.6,19.6 L309.5,21.2" fill="none" stroke="#6f6f6f" stroke-width="0.9" /><rect x="325.9" y="7.3" width="4.5" height="13.9" rx="0.8" fill="#fff" stroke="#6f6f6f" stroke-width="1" /><path d="M339.7,7.3 V21.2 H363.6 V7.3" fill="#fff" stroke="#6f6f6f" stroke-width="1" /><path d="M355.7,11.8 H366.2 M364.5,7.3 V11.8" fill="none" stroke="#6f6f6f" stroke-width="1" /><path d="M348.4,21.2 L349.3,19.6 L350.2,21.2" fill="none" stroke="#6f6f6f" stroke-width="0.9" /><rect x="366.6" y="7.3" width="4.5" height="13.9" rx="0.8" fill="#fff" stroke="#6f6f6f" stroke-width="1" /><path d="M380.4,7.3 V21.2 H404.3 V7.3" fill="#fff" stroke="#6f6f6f" stroke-width="1" /><path d="M396.4,11.8 H406.9 M405.2,7.3 V11.8" fill="none" stroke="#6f6f6f" stroke-width="1" /><path d="M389.1,21.2 L390,19.6 L390.9,21.2" fill="none" stroke="#6f6f6f" stroke-width="0.9" /></g><path d="M217.5,192.7 L250.8,203.2 L250.9,397.7 L217.5,384.8 Z" fill="#fff" stroke="#3c3c3c" stroke-width="1.1" /><path d="M258.44,192.7 L291.74,203.2 L291.84,397.7 L258.44,384.8 Z" fill="#fff" stroke="#3c3c3c" stroke-width="1.1" /><path d="M299.38,192.7 L332.68,203.2 L332.78,397.7 L299.38,384.8 Z" fill="#fff" stroke="#3c3c3c" stroke-width="1.1" /><path d="M340.32,192.7 L373.62,203.2 L373.72,397.7 L340.32,384.8 Z" fill="#fff" stroke="#3c3c3c" stroke-width="1.1" /><path d="M381.26,192.7 L414.56,203.2 L414.66,397.7 L381.26,384.8 Z" fill="#fff" stroke="#3c3c3c" stroke-width="1.1" /><path d="M422.2,192.7 L455.5,203.2 L455.6,397.7 L422.2,384.8 Z" fill="#fff" stroke="#3c3c3c" stroke-width="1.1" /><path d="M463.14,192.7 L496.44,203.2 L496.54,397.7 L463.14,384.8 Z" fill="#fff" stroke="#3c3c3c" stroke-width="1.1" /><path d="M504.08,192.7 L537.38,203.2 L537.48,397.7 L504.08,384.8 Z" fill="#fff" stroke="#3c3c3c" stroke-width="1.1" /><path d="M545.02,192.7 L578.32,203.2 L578.42,397.7 L545.02,384.8 Z" fill="#fff" stroke="#3c3c3c" stroke-width="1.1" /><path d="M583.5,192.7 L616.8,203.2 L616.9,397.7 L583.5,384.8 Z" fill="#fff" stroke="#3c3c3c" stroke-width="1.1" /><line x1="243" y1="212" x2="243" y2="384" stroke="#3b8fd4" stroke-width="1.6" /><path d="M243,203.2 L249.8,221.7 Q243,217.63 236.2,221.7 Z" fill="#3b8fd4"/><path d="M243,392.4 L236.2,373.9 Q243,377.97 249.8,373.9 Z" fill="#3b8fd4"/><text x="0" y="0" font-family="Liberation Sans" font-size="21.5" font-weight="bold" fill="#3b8fd4" text-anchor="start" transform="translate(245,322.5) rotate(-90)" textLength="62.5" lengthAdjust="spacingAndGlyphs">L max</text><line x1="171.3" y1="114.6" x2="171.3" y2="158.4" stroke="#7a7a7a" stroke-width="1.1" /><path d="M171.3,158.4 L163.7,138.4 Q171.3,143.4 178.9,138.4 Z" fill="#222"/><line x1="147" y1="158.4" x2="184" y2="158.4" stroke="#7a7a7a" stroke-width="1.1" /><line x1="147" y1="168.5" x2="208" y2="168.5" stroke="#7a7a7a" stroke-width="1.1" /><line x1="171.3" y1="168.5" x2="171.3" y2="238" stroke="#7a7a7a" stroke-width="1.1" /><path d="M171.3,168.5 L178.9,188.5 Q171.3,183.5 163.7,188.5 Z" fill="#222"/><text x="0" y="0" font-family="Liberation Sans" font-size="31" font-weight="normal" fill="#1e1e1e" text-anchor="start" transform="translate(166.8,230.3) rotate(-90)" textLength="30.3" lengthAdjust="spacingAndGlyphs">16</text><line x1="171.2" y1="351.8" x2="171.2" y2="422.5" stroke="#7a7a7a" stroke-width="1.1" /><path d="M171.2,422.5 L163.6,403.5 Q171.2,408.25 178.8,403.5 Z" fill="#222"/><line x1="147" y1="422.5" x2="207.7" y2="422.5" stroke="#7a7a7a" stroke-width="1.1" /><line x1="147" y1="432.5" x2="182.4" y2="432.5" stroke="#7a7a7a" stroke-width="1.1" /><line x1="171.2" y1="432.5" x2="171.2" y2="477.2" stroke="#7a7a7a" stroke-width="1.1" /><path d="M171.2,432.5 L178.8,452.5 Q171.2,447.5 163.6,452.5 Z" fill="#222"/><text x="0" y="0" font-family="Liberation Sans" font-size="31" font-weight="normal" fill="#1e1e1e" text-anchor="start" transform="translate(167.1,389.6) rotate(-90)" textLength="29.5" lengthAdjust="spacingAndGlyphs">16</text><line x1="646" y1="158.2" x2="669.3" y2="158.2" stroke="#8a8a8a" stroke-width="1.2" /><line x1="646" y1="432.5" x2="669.3" y2="432.5" stroke="#8a8a8a" stroke-width="1.2" /><line x1="664.2" y1="170" x2="664.2" y2="421" stroke="#555" stroke-width="1.1" /><path d="M664.2,158.2 L667.5,184.2 Q664.2,181.6 660.9,184.2 Z" fill="#222"/><path d="M664.2,432.5 L660.9,406.5 Q664.2,409.1 667.5,406.5 Z" fill="#222"/><text x="0" y="0" font-family="Liberation Sans" font-size="22" font-weight="normal" fill="#222" text-anchor="start" transform="translate(660.4,301.2) rotate(-90)" textLength="14.5" lengthAdjust="spacingAndGlyphs">X</text><g transform="translate(702.2,198.2) scale(0.66,0.612)"><rect x="0" y="-13.2" width="10.6" height="376.2" fill="#b9b9b9" stroke="#6a6a6a" stroke-width="0.8" vector-effect="non-scaling-stroke"/><rect x="23.9" y="-6.7" width="5.7" height="377.3" fill="#b9b9b9" stroke="#6a6a6a" stroke-width="0.8" vector-effect="non-scaling-stroke"/><path d="M-10.3,0 H23.9 V2.8 H29.6 V7.9 H-4.6 V3.6 H-10.3 Q-11.1,3.6 -11.1,2.8 V0.8 Q-11.1,0 -10.3,0 Z" fill="#e9e9e9" stroke="#6a6a6a" stroke-width="0.8" vector-effect="non-scaling-stroke"/><path d="M23.8,7.9 A2.9,2.9 0 0 0 29.6,7.9" fill="#f6f6f6" stroke="#6a6a6a" stroke-width="0.8" vector-effect="non-scaling-stroke"/><circle cx="26.7" cy="8.5" r="1.05" fill="#111"/><circle cx="5.3" cy="4.8" r="1.1" fill="#111"/><path d="M-10.3,28.69 H23.9 V31.49 H29.6 V36.59 H-4.6 V32.29 H-10.3 Q-11.1,32.29 -11.1,31.49 V29.49 Q-11.1,28.69 -10.3,28.69 Z" fill="#e9e9e9" stroke="#6a6a6a" stroke-width="0.8" vector-effect="non-scaling-stroke"/><path d="M23.8,36.59 A2.9,2.9 0 0 0 29.6,36.59" fill="#f6f6f6" stroke="#6a6a6a" stroke-width="0.8" vector-effect="non-scaling-stroke"/><circle cx="26.7" cy="37.19" r="1.05" fill="#111"/><circle cx="5.3" cy="33.49" r="1.1" fill="#111"/><path d="M-10.3,57.38 H23.9 V60.18 H29.6 V65.28 H-4.6 V60.98 H-10.3 Q-11.1,60.98 -11.1,60.18 V58.18 Q-11.1,57.38 -10.3,57.38 Z" fill="#e9e9e9" stroke="#6a6a6a" stroke-width="0.8" vector-effect="non-scaling-stroke"/><path d="M23.8,65.28 A2.9,2.9 0 0 0 29.6,65.28" fill="#f6f6f6" stroke="#6a6a6a" stroke-width="0.8" vector-effect="non-scaling-stroke"/><circle cx="26.7" cy="65.88" r="1.05" fill="#111"/><circle cx="5.3" cy="62.18" r="1.1" fill="#111"/><path d="M-10.3,86.07 H23.9 V88.87 H29.6 V93.97 H-4.6 V89.67 H-10.3 Q-11.1,89.67 -11.1,88.87 V86.87 Q-11.1,86.07 -10.3,86.07 Z" fill="#e9e9e9" stroke="#6a6a6a" stroke-width="0.8" vector-effect="non-scaling-stroke"/><path d="M23.8,93.97 A2.9,2.9 0 0 0 29.6,93.97" fill="#f6f6f6" stroke="#6a6a6a" stroke-width="0.8" vector-effect="non-scaling-stroke"/><circle cx="26.7" cy="94.57" r="1.05" fill="#111"/><circle cx="5.3" cy="90.87" r="1.1" fill="#111"/><path d="M-10.3,114.76 H23.9 V117.56 H29.6 V122.66 H-4.6 V118.36 H-10.3 Q-11.1,118.36 -11.1,117.56 V115.56 Q-11.1,114.76 -10.3,114.76 Z" fill="#e9e9e9" stroke="#6a6a6a" stroke-width="0.8" vector-effect="non-scaling-stroke"/><path d="M23.8,122.66 A2.9,2.9 0 0 0 29.6,122.66" fill="#f6f6f6" stroke="#6a6a6a" stroke-width="0.8" vector-effect="non-scaling-stroke"/><circle cx="26.7" cy="123.26" r="1.05" fill="#111"/><circle cx="5.3" cy="119.56" r="1.1" fill="#111"/><path d="M-10.3,143.45 H23.9 V146.25 H29.6 V151.35 H-4.6 V147.05 H-10.3 Q-11.1,147.05 -11.1,146.25 V144.25 Q-11.1,143.45 -10.3,143.45 Z" fill="#e9e9e9" stroke="#6a6a6a" stroke-width="0.8" vector-effect="non-scaling-stroke"/><path d="M23.8,151.35 A2.9,2.9 0 0 0 29.6,151.35" fill="#f6f6f6" stroke="#6a6a6a" stroke-width="0.8" vector-effect="non-scaling-stroke"/><circle cx="26.7" cy="151.95" r="1.05" fill="#111"/><circle cx="5.3" cy="148.25" r="1.1" fill="#111"/><path d="M-10.3,172.14 H23.9 V174.94 H29.6 V180.04 H-4.6 V175.74 H-10.3 Q-11.1,175.74 -11.1,174.94 V172.94 Q-11.1,172.14 -10.3,172.14 Z" fill="#e9e9e9" stroke="#6a6a6a" stroke-width="0.8" vector-effect="non-scaling-stroke"/><path d="M23.8,180.04 A2.9,2.9 0 0 0 29.6,180.04" fill="#f6f6f6" stroke="#6a6a6a" stroke-width="0.8" vector-effect="non-scaling-stroke"/><circle cx="26.7" cy="180.64" r="1.05" fill="#111"/><circle cx="5.3" cy="176.94" r="1.1" fill="#111"/><path d="M-10.3,200.83 H23.9 V203.63 H29.6 V208.73 H-4.6 V204.43 H-10.3 Q-11.1,204.43 -11.1,203.63 V201.63 Q-11.1,200.83 -10.3,200.83 Z" fill="#e9e9e9" stroke="#6a6a6a" stroke-width="0.8" vector-effect="non-scaling-stroke"/><path d="M23.8,208.73 A2.9,2.9 0 0 0 29.6,208.73" fill="#f6f6f6" stroke="#6a6a6a" stroke-width="0.8" vector-effect="non-scaling-stroke"/><circle cx="26.7" cy="209.33" r="1.05" fill="#111"/><circle cx="5.3" cy="205.63" r="1.1" fill="#111"/><path d="M-10.3,229.52 H23.9 V232.32 H29.6 V237.42 H-4.6 V233.12 H-10.3 Q-11.1,233.12 -11.1,232.32 V230.32 Q-11.1,229.52 -10.3,229.52 Z" fill="#e9e9e9" stroke="#6a6a6a" stroke-width="0.8" vector-effect="non-scaling-stroke"/><path d="M23.8,237.42 A2.9,2.9 0 0 0 29.6,237.42" fill="#f6f6f6" stroke="#6a6a6a" stroke-width="0.8" vector-effect="non-scaling-stroke"/><circle cx="26.7" cy="238.02" r="1.05" fill="#111"/><circle cx="5.3" cy="234.32" r="1.1" fill="#111"/><path d="M-10.3,258.21 H23.9 V261.01 H29.6 V266.11 H-4.6 V261.81 H-10.3 Q-11.1,261.81 -11.1,261.01 V259.01 Q-11.1,258.21 -10.3,258.21 Z" fill="#e9e9e9" stroke="#6a6a6a" stroke-width="0.8" vector-effect="non-scaling-stroke"/><path d="M23.8,266.11 A2.9,2.9 0 0 0 29.6,266.11" fill="#f6f6f6" stroke="#6a6a6a" stroke-width="0.8" vector-effect="non-scaling-stroke"/><circle cx="26.7" cy="266.71" r="1.05" fill="#111"/><circle cx="5.3" cy="263.01" r="1.1" fill="#111"/><path d="M-10.3,286.9 H23.9 V289.7 H29.6 V294.8 H-4.6 V290.5 H-10.3 Q-11.1,290.5 -11.1,289.7 V287.7 Q-11.1,286.9 -10.3,286.9 Z" fill="#e9e9e9" stroke="#6a6a6a" stroke-width="0.8" vector-effect="non-scaling-stroke"/><path d="M23.8,294.8 A2.9,2.9 0 0 0 29.6,294.8" fill="#f6f6f6" stroke="#6a6a6a" stroke-width="0.8" vector-effect="non-scaling-stroke"/><circle cx="26.7" cy="295.4" r="1.05" fill="#111"/><circle cx="5.3" cy="291.7" r="1.1" fill="#111"/><path d="M-10.3,315.59 H23.9 V318.39 H29.6 V323.49 H-4.6 V319.19 H-10.3 Q-11.1,319.19 -11.1,318.39 V316.39 Q-11.1,315.59 -10.3,315.59 Z" fill="#e9e9e9" stroke="#6a6a6a" stroke-width="0.8" vector-effect="non-scaling-stroke"/><path d="M23.8,323.49 A2.9,2.9 0 0 0 29.6,323.49" fill="#f6f6f6" stroke="#6a6a6a" stroke-width="0.8" vector-effect="non-scaling-stroke"/><circle cx="26.7" cy="324.09" r="1.05" fill="#111"/><circle cx="5.3" cy="320.39" r="1.1" fill="#111"/><path d="M-10.3,344.28 H23.9 V347.08 H29.6 V352.18 H-4.6 V347.88 H-10.3 Q-11.1,347.88 -11.1,347.08 V345.08 Q-11.1,344.28 -10.3,344.28 Z" fill="#e9e9e9" stroke="#6a6a6a" stroke-width="0.8" vector-effect="non-scaling-stroke"/><path d="M23.8,352.18 A2.9,2.9 0 0 0 29.6,352.18" fill="#f6f6f6" stroke="#6a6a6a" stroke-width="0.8" vector-effect="non-scaling-stroke"/><circle cx="26.7" cy="352.78" r="1.05" fill="#111"/><circle cx="5.3" cy="349.08" r="1.1" fill="#111"/></g><circle cx="705.7" cy="194.3" r="1.3" fill="#111" stroke="none" stroke-width="1"/><circle cx="705.7" cy="416.6" r="1.3" fill="#111" stroke="none" stroke-width="1"/><circle cx="719" cy="422.3" r="1.1" fill="#111" stroke="none" stroke-width="1"/><rect x="757.1" y="254.5" width="10.7" height="6.1" rx="1" fill="#fff" stroke="#666" stroke-width="0.9" /><rect x="759.6" y="260.6" width="6" height="24" fill="#bdbdbd" stroke="#666" stroke-width="0.8" /><path d="M759.6,262.1 H765.6 M759.6,264.1 H765.6 M759.6,266.1 H765.6 M759.6,268.1 H765.6 M759.6,270.1 H765.6 M759.6,272.1 H765.6 M759.6,274.1 H765.6 M759.6,276.1 H765.6 M759.6,278.1 H765.6 M759.6,280.1 H765.6 M759.6,282.1 H765.6" fill="none" stroke="#777" stroke-width="0.7" /><rect x="757.1" y="288.3" width="10.7" height="5.4" rx="1.5" fill="#fff" stroke="#666" stroke-width="0.9" /><rect x="798.8" y="236.9" width="15.3" height="59.8" rx="7.65" fill="#fff" stroke="#555" stroke-width="1" /><circle cx="806.45" cy="244.05" r="2.7" fill="#1a1a1a" stroke="none" stroke-width="1"/><circle cx="806.45" cy="289.55" r="2.7" fill="#1a1a1a" stroke="none" stroke-width="1"/><g transform="translate(760.5,372) scale(1.05)"><path d="M-8.8,9.7 V7.6 C-8.8,3.2 -5.2,0.3 -1.8,0 V5.3 H1.8 V0 C5.2,0.3 8.8,3.2 8.8,7.6 V9.7 Z" fill="#fff" stroke="#333" stroke-width="1.8" stroke-linejoin="round" vector-effect="non-scaling-stroke"/><path d="M-4.8,9.7 V40.8 L0,47.5 L4.8,40.8 V9.7 Z" fill="#fff" stroke="#333" stroke-width="1.8" stroke-linejoin="round" vector-effect="non-scaling-stroke"/><clipPath id="sc139897216859712"><path d="M-4.8,9.7 V40.8 L0,47.5 L4.8,40.8 V9.7 Z"/></clipPath><path d="M-4.8,9.2 L4.8,16.4 M-4.8,14.8 L4.8,22 M-4.8,20.4 L4.8,27.6 M-4.8,26 L4.8,33.2 M-4.8,31.6 L4.8,38.8 M-4.8,37.2 L4.8,44.4" stroke="#333" stroke-width="2.34" fill="none" clip-path="url(#sc139897216859712)" vector-effect="non-scaling-stroke"/><path d="M-4.8,9.7 V40.8 L0,47.5 L4.8,40.8 V9.7 Z" fill="none" stroke="#333" stroke-width="1.8" stroke-linejoin="round" vector-effect="non-scaling-stroke"/></g><g transform="translate(804.2,383.6) scale(0.54)"><path d="M-8.8,9.7 V7.6 C-8.8,3.2 -5.2,0.3 -1.8,0 V5.3 H1.8 V0 C5.2,0.3 8.8,3.2 8.8,7.6 V9.7 Z" fill="#fff" stroke="#333" stroke-width="1.1" stroke-linejoin="round" vector-effect="non-scaling-stroke"/><path d="M-4.8,9.7 V40.8 L0,47.5 L4.8,40.8 V9.7 Z" fill="#fff" stroke="#333" stroke-width="1.1" stroke-linejoin="round" vector-effect="non-scaling-stroke"/><clipPath id="sc139897220393856"><path d="M-4.8,9.7 V40.8 L0,47.5 L4.8,40.8 V9.7 Z"/></clipPath><path d="M-4.8,9.2 L4.8,16.4 M-4.8,14.8 L4.8,22 M-4.8,20.4 L4.8,27.6 M-4.8,26 L4.8,33.2 M-4.8,31.6 L4.8,38.8 M-4.8,37.2 L4.8,44.4" stroke="#333" stroke-width="1.43" fill="none" clip-path="url(#sc139897220393856)" vector-effect="non-scaling-stroke"/><path d="M-4.8,9.7 V40.8 L0,47.5 L4.8,40.8 V9.7 Z" fill="none" stroke="#333" stroke-width="1.1" stroke-linejoin="round" vector-effect="non-scaling-stroke"/></g><text x="751" y="330.5" font-family="Liberation Sans" font-size="24.2" font-weight="normal" fill="#1e1e1e" text-anchor="start" textLength="26.2" lengthAdjust="spacingAndGlyphs">2x</text><text x="792.4" y="330.5" font-family="Liberation Sans" font-size="24.2" font-weight="normal" fill="#1e1e1e" text-anchor="start" textLength="24.4" lengthAdjust="spacingAndGlyphs">1x</text><text x="702.8" y="453.5" font-family="Liberation Sans" font-size="24.2" font-weight="normal" fill="#1e1e1e" text-anchor="start" textLength="25.2" lengthAdjust="spacingAndGlyphs">2x</text><text x="748.6" y="453.5" font-family="Liberation Sans" font-size="24.2" font-weight="normal" fill="#1e1e1e" text-anchor="start" textLength="26" lengthAdjust="spacingAndGlyphs">6x</text><text x="787.4" y="453.5" font-family="Liberation Sans" font-size="24.2" font-weight="normal" fill="#1e1e1e" text-anchor="start" textLength="38.6" lengthAdjust="spacingAndGlyphs">48x</text><g transform="translate(986.3,136.8)"><rect x="0" y="-14.6" width="10.6" height="378.6" fill="#b9b9b9" stroke="#6a6a6a" stroke-width="0.9" vector-effect="non-scaling-stroke"/><rect x="23.9" y="-6.5" width="5.7" height="378.6" fill="#b9b9b9" stroke="#6a6a6a" stroke-width="0.9" vector-effect="non-scaling-stroke"/><path d="M-10.3,0 H23.9 V2.8 H29.6 V7.9 H-4.6 V3.6 H-10.3 Q-11.1,3.6 -11.1,2.8 V0.8 Q-11.1,0 -10.3,0 Z" fill="#e9e9e9" stroke="#6a6a6a" stroke-width="0.9" vector-effect="non-scaling-stroke"/><path d="M23.8,7.9 A2.9,2.9 0 0 0 29.6,7.9" fill="#f6f6f6" stroke="#6a6a6a" stroke-width="0.9" vector-effect="non-scaling-stroke"/><circle cx="26.7" cy="8.5" r="1.05" fill="#111"/><circle cx="5.3" cy="4.8" r="1.1" fill="#111"/><path d="M-10.3,28.69 H23.9 V31.49 H29.6 V36.59 H-4.6 V32.29 H-10.3 Q-11.1,32.29 -11.1,31.49 V29.49 Q-11.1,28.69 -10.3,28.69 Z" fill="#e9e9e9" stroke="#6a6a6a" stroke-width="0.9" vector-effect="non-scaling-stroke"/><path d="M23.8,36.59 A2.9,2.9 0 0 0 29.6,36.59" fill="#f6f6f6" stroke="#6a6a6a" stroke-width="0.9" vector-effect="non-scaling-stroke"/><circle cx="26.7" cy="37.19" r="1.05" fill="#111"/><circle cx="5.3" cy="33.49" r="1.1" fill="#111"/><path d="M-10.3,57.38 H23.9 V60.18 H29.6 V65.28 H-4.6 V60.98 H-10.3 Q-11.1,60.98 -11.1,60.18 V58.18 Q-11.1,57.38 -10.3,57.38 Z" fill="#e9e9e9" stroke="#6a6a6a" stroke-width="0.9" vector-effect="non-scaling-stroke"/><path d="M23.8,65.28 A2.9,2.9 0 0 0 29.6,65.28" fill="#f6f6f6" stroke="#6a6a6a" stroke-width="0.9" vector-effect="non-scaling-stroke"/><circle cx="26.7" cy="65.88" r="1.05" fill="#111"/><circle cx="5.3" cy="62.18" r="1.1" fill="#111"/><path d="M-10.3,86.07 H23.9 V88.87 H29.6 V93.97 H-4.6 V89.67 H-10.3 Q-11.1,89.67 -11.1,88.87 V86.87 Q-11.1,86.07 -10.3,86.07 Z" fill="#e9e9e9" stroke="#6a6a6a" stroke-width="0.9" vector-effect="non-scaling-stroke"/><path d="M23.8,93.97 A2.9,2.9 0 0 0 29.6,93.97" fill="#f6f6f6" stroke="#6a6a6a" stroke-width="0.9" vector-effect="non-scaling-stroke"/><circle cx="26.7" cy="94.57" r="1.05" fill="#111"/><circle cx="5.3" cy="90.87" r="1.1" fill="#111"/><path d="M-10.3,114.76 H23.9 V117.56 H29.6 V122.66 H-4.6 V118.36 H-10.3 Q-11.1,118.36 -11.1,117.56 V115.56 Q-11.1,114.76 -10.3,114.76 Z" fill="#e9e9e9" stroke="#6a6a6a" stroke-width="0.9" vector-effect="non-scaling-stroke"/><path d="M23.8,122.66 A2.9,2.9 0 0 0 29.6,122.66" fill="#f6f6f6" stroke="#6a6a6a" stroke-width="0.9" vector-effect="non-scaling-stroke"/><circle cx="26.7" cy="123.26" r="1.05" fill="#111"/><circle cx="5.3" cy="119.56" r="1.1" fill="#111"/><path d="M-10.3,143.45 H23.9 V146.25 H29.6 V151.35 H-4.6 V147.05 H-10.3 Q-11.1,147.05 -11.1,146.25 V144.25 Q-11.1,143.45 -10.3,143.45 Z" fill="#e9e9e9" stroke="#6a6a6a" stroke-width="0.9" vector-effect="non-scaling-stroke"/><path d="M23.8,151.35 A2.9,2.9 0 0 0 29.6,151.35" fill="#f6f6f6" stroke="#6a6a6a" stroke-width="0.9" vector-effect="non-scaling-stroke"/><circle cx="26.7" cy="151.95" r="1.05" fill="#111"/><circle cx="5.3" cy="148.25" r="1.1" fill="#111"/><path d="M-10.3,172.14 H23.9 V174.94 H29.6 V180.04 H-4.6 V175.74 H-10.3 Q-11.1,175.74 -11.1,174.94 V172.94 Q-11.1,172.14 -10.3,172.14 Z" fill="#e9e9e9" stroke="#6a6a6a" stroke-width="0.9" vector-effect="non-scaling-stroke"/><path d="M23.8,180.04 A2.9,2.9 0 0 0 29.6,180.04" fill="#f6f6f6" stroke="#6a6a6a" stroke-width="0.9" vector-effect="non-scaling-stroke"/><circle cx="26.7" cy="180.64" r="1.05" fill="#111"/><circle cx="5.3" cy="176.94" r="1.1" fill="#111"/><path d="M-10.3,200.83 H23.9 V203.63 H29.6 V208.73 H-4.6 V204.43 H-10.3 Q-11.1,204.43 -11.1,203.63 V201.63 Q-11.1,200.83 -10.3,200.83 Z" fill="#e9e9e9" stroke="#6a6a6a" stroke-width="0.9" vector-effect="non-scaling-stroke"/><path d="M23.8,208.73 A2.9,2.9 0 0 0 29.6,208.73" fill="#f6f6f6" stroke="#6a6a6a" stroke-width="0.9" vector-effect="non-scaling-stroke"/><circle cx="26.7" cy="209.33" r="1.05" fill="#111"/><circle cx="5.3" cy="205.63" r="1.1" fill="#111"/><path d="M-10.3,229.52 H23.9 V232.32 H29.6 V237.42 H-4.6 V233.12 H-10.3 Q-11.1,233.12 -11.1,232.32 V230.32 Q-11.1,229.52 -10.3,229.52 Z" fill="#e9e9e9" stroke="#6a6a6a" stroke-width="0.9" vector-effect="non-scaling-stroke"/><path d="M23.8,237.42 A2.9,2.9 0 0 0 29.6,237.42" fill="#f6f6f6" stroke="#6a6a6a" stroke-width="0.9" vector-effect="non-scaling-stroke"/><circle cx="26.7" cy="238.02" r="1.05" fill="#111"/><circle cx="5.3" cy="234.32" r="1.1" fill="#111"/><path d="M-10.3,258.21 H23.9 V261.01 H29.6 V266.11 H-4.6 V261.81 H-10.3 Q-11.1,261.81 -11.1,261.01 V259.01 Q-11.1,258.21 -10.3,258.21 Z" fill="#e9e9e9" stroke="#6a6a6a" stroke-width="0.9" vector-effect="non-scaling-stroke"/><path d="M23.8,266.11 A2.9,2.9 0 0 0 29.6,266.11" fill="#f6f6f6" stroke="#6a6a6a" stroke-width="0.9" vector-effect="non-scaling-stroke"/><circle cx="26.7" cy="266.71" r="1.05" fill="#111"/><circle cx="5.3" cy="263.01" r="1.1" fill="#111"/><path d="M-10.3,286.9 H23.9 V289.7 H29.6 V294.8 H-4.6 V290.5 H-10.3 Q-11.1,290.5 -11.1,289.7 V287.7 Q-11.1,286.9 -10.3,286.9 Z" fill="#e9e9e9" stroke="#6a6a6a" stroke-width="0.9" vector-effect="non-scaling-stroke"/><path d="M23.8,294.8 A2.9,2.9 0 0 0 29.6,294.8" fill="#f6f6f6" stroke="#6a6a6a" stroke-width="0.9" vector-effect="non-scaling-stroke"/><circle cx="26.7" cy="295.4" r="1.05" fill="#111"/><circle cx="5.3" cy="291.7" r="1.1" fill="#111"/><path d="M-10.3,315.59 H23.9 V318.39 H29.6 V323.49 H-4.6 V319.19 H-10.3 Q-11.1,319.19 -11.1,318.39 V316.39 Q-11.1,315.59 -10.3,315.59 Z" fill="#e9e9e9" stroke="#6a6a6a" stroke-width="0.9" vector-effect="non-scaling-stroke"/><path d="M23.8,323.49 A2.9,2.9 0 0 0 29.6,323.49" fill="#f6f6f6" stroke="#6a6a6a" stroke-width="0.9" vector-effect="non-scaling-stroke"/><circle cx="26.7" cy="324.09" r="1.05" fill="#111"/><circle cx="5.3" cy="320.39" r="1.1" fill="#111"/><path d="M-10.3,344.28 H23.9 V347.08 H29.6 V352.18 H-4.6 V347.88 H-10.3 Q-11.1,347.88 -11.1,347.08 V345.08 Q-11.1,344.28 -10.3,344.28 Z" fill="#e9e9e9" stroke="#6a6a6a" stroke-width="0.9" vector-effect="non-scaling-stroke"/><path d="M23.8,352.18 A2.9,2.9 0 0 0 29.6,352.18" fill="#f6f6f6" stroke="#6a6a6a" stroke-width="0.9" vector-effect="non-scaling-stroke"/><circle cx="26.7" cy="352.78" r="1.05" fill="#111"/><circle cx="5.3" cy="349.08" r="1.1" fill="#111"/></g><circle cx="991.3" cy="130.8" r="1.7" fill="#111" stroke="none" stroke-width="1"/><circle cx="991.3" cy="300.6" r="1.7" fill="#111" stroke="none" stroke-width="1"/><circle cx="991.3" cy="497.3" r="1.7" fill="#111" stroke="none" stroke-width="1"/><circle cx="1013" cy="505.9" r="1.4" fill="#111" stroke="none" stroke-width="1"/><g transform="translate(1394.2,136.8)"><rect x="0" y="-14.6" width="10.6" height="378.6" fill="#b9b9b9" stroke="#6a6a6a" stroke-width="0.9" vector-effect="non-scaling-stroke"/><rect x="23.9" y="-6.5" width="5.7" height="378.6" fill="#b9b9b9" stroke="#6a6a6a" stroke-width="0.9" vector-effect="non-scaling-stroke"/><path d="M-10.3,0 H23.9 V2.8 H29.6 V7.9 H-4.6 V3.6 H-10.3 Q-11.1,3.6 -11.1,2.8 V0.8 Q-11.1,0 -10.3,0 Z" fill="#e9e9e9" stroke="#6a6a6a" stroke-width="0.9" vector-effect="non-scaling-stroke"/><path d="M23.8,7.9 A2.9,2.9 0 0 0 29.6,7.9" fill="#f6f6f6" stroke="#6a6a6a" stroke-width="0.9" vector-effect="non-scaling-stroke"/><circle cx="26.7" cy="8.5" r="1.05" fill="#111"/><circle cx="5.3" cy="4.8" r="1.1" fill="#111"/><path d="M-10.3,28.69 H23.9 V31.49 H29.6 V36.59 H-4.6 V32.29 H-10.3 Q-11.1,32.29 -11.1,31.49 V29.49 Q-11.1,28.69 -10.3,28.69 Z" fill="#e9e9e9" stroke="#6a6a6a" stroke-width="0.9" vector-effect="non-scaling-stroke"/><path d="M23.8,36.59 A2.9,2.9 0 0 0 29.6,36.59" fill="#f6f6f6" stroke="#6a6a6a" stroke-width="0.9" vector-effect="non-scaling-stroke"/><circle cx="26.7" cy="37.19" r="1.05" fill="#111"/><circle cx="5.3" cy="33.49" r="1.1" fill="#111"/><path d="M-10.3,57.38 H23.9 V60.18 H29.6 V65.28 H-4.6 V60.98 H-10.3 Q-11.1,60.98 -11.1,60.18 V58.18 Q-11.1,57.38 -10.3,57.38 Z" fill="#e9e9e9" stroke="#6a6a6a" stroke-width="0.9" vector-effect="non-scaling-stroke"/><path d="M23.8,65.28 A2.9,2.9 0 0 0 29.6,65.28" fill="#f6f6f6" stroke="#6a6a6a" stroke-width="0.9" vector-effect="non-scaling-stroke"/><circle cx="26.7" cy="65.88" r="1.05" fill="#111"/><circle cx="5.3" cy="62.18" r="1.1" fill="#111"/><path d="M-10.3,86.07 H23.9 V88.87 H29.6 V93.97 H-4.6 V89.67 H-10.3 Q-11.1,89.67 -11.1,88.87 V86.87 Q-11.1,86.07 -10.3,86.07 Z" fill="#e9e9e9" stroke="#6a6a6a" stroke-width="0.9" vector-effect="non-scaling-stroke"/><path d="M23.8,93.97 A2.9,2.9 0 0 0 29.6,93.97" fill="#f6f6f6" stroke="#6a6a6a" stroke-width="0.9" vector-effect="non-scaling-stroke"/><circle cx="26.7" cy="94.57" r="1.05" fill="#111"/><circle cx="5.3" cy="90.87" r="1.1" fill="#111"/><path d="M-10.3,114.76 H23.9 V117.56 H29.6 V122.66 H-4.6 V118.36 H-10.3 Q-11.1,118.36 -11.1,117.56 V115.56 Q-11.1,114.76 -10.3,114.76 Z" fill="#e9e9e9" stroke="#6a6a6a" stroke-width="0.9" vector-effect="non-scaling-stroke"/><path d="M23.8,122.66 A2.9,2.9 0 0 0 29.6,122.66" fill="#f6f6f6" stroke="#6a6a6a" stroke-width="0.9" vector-effect="non-scaling-stroke"/><circle cx="26.7" cy="123.26" r="1.05" fill="#111"/><circle cx="5.3" cy="119.56" r="1.1" fill="#111"/><path d="M-10.3,143.45 H23.9 V146.25 H29.6 V151.35 H-4.6 V147.05 H-10.3 Q-11.1,147.05 -11.1,146.25 V144.25 Q-11.1,143.45 -10.3,143.45 Z" fill="#e9e9e9" stroke="#6a6a6a" stroke-width="0.9" vector-effect="non-scaling-stroke"/><path d="M23.8,151.35 A2.9,2.9 0 0 0 29.6,151.35" fill="#f6f6f6" stroke="#6a6a6a" stroke-width="0.9" vector-effect="non-scaling-stroke"/><circle cx="26.7" cy="151.95" r="1.05" fill="#111"/><circle cx="5.3" cy="148.25" r="1.1" fill="#111"/><path d="M-10.3,172.14 H23.9 V174.94 H29.6 V180.04 H-4.6 V175.74 H-10.3 Q-11.1,175.74 -11.1,174.94 V172.94 Q-11.1,172.14 -10.3,172.14 Z" fill="#e9e9e9" stroke="#6a6a6a" stroke-width="0.9" vector-effect="non-scaling-stroke"/><path d="M23.8,180.04 A2.9,2.9 0 0 0 29.6,180.04" fill="#f6f6f6" stroke="#6a6a6a" stroke-width="0.9" vector-effect="non-scaling-stroke"/><circle cx="26.7" cy="180.64" r="1.05" fill="#111"/><circle cx="5.3" cy="176.94" r="1.1" fill="#111"/><path d="M-10.3,200.83 H23.9 V203.63 H29.6 V208.73 H-4.6 V204.43 H-10.3 Q-11.1,204.43 -11.1,203.63 V201.63 Q-11.1,200.83 -10.3,200.83 Z" fill="#e9e9e9" stroke="#6a6a6a" stroke-width="0.9" vector-effect="non-scaling-stroke"/><path d="M23.8,208.73 A2.9,2.9 0 0 0 29.6,208.73" fill="#f6f6f6" stroke="#6a6a6a" stroke-width="0.9" vector-effect="non-scaling-stroke"/><circle cx="26.7" cy="209.33" r="1.05" fill="#111"/><circle cx="5.3" cy="205.63" r="1.1" fill="#111"/><path d="M-10.3,229.52 H23.9 V232.32 H29.6 V237.42 H-4.6 V233.12 H-10.3 Q-11.1,233.12 -11.1,232.32 V230.32 Q-11.1,229.52 -10.3,229.52 Z" fill="#e9e9e9" stroke="#6a6a6a" stroke-width="0.9" vector-effect="non-scaling-stroke"/><path d="M23.8,237.42 A2.9,2.9 0 0 0 29.6,237.42" fill="#f6f6f6" stroke="#6a6a6a" stroke-width="0.9" vector-effect="non-scaling-stroke"/><circle cx="26.7" cy="238.02" r="1.05" fill="#111"/><circle cx="5.3" cy="234.32" r="1.1" fill="#111"/><path d="M-10.3,258.21 H23.9 V261.01 H29.6 V266.11 H-4.6 V261.81 H-10.3 Q-11.1,261.81 -11.1,261.01 V259.01 Q-11.1,258.21 -10.3,258.21 Z" fill="#e9e9e9" stroke="#6a6a6a" stroke-width="0.9" vector-effect="non-scaling-stroke"/><path d="M23.8,266.11 A2.9,2.9 0 0 0 29.6,266.11" fill="#f6f6f6" stroke="#6a6a6a" stroke-width="0.9" vector-effect="non-scaling-stroke"/><circle cx="26.7" cy="266.71" r="1.05" fill="#111"/><circle cx="5.3" cy="263.01" r="1.1" fill="#111"/><path d="M-10.3,286.9 H23.9 V289.7 H29.6 V294.8 H-4.6 V290.5 H-10.3 Q-11.1,290.5 -11.1,289.7 V287.7 Q-11.1,286.9 -10.3,286.9 Z" fill="#e9e9e9" stroke="#6a6a6a" stroke-width="0.9" vector-effect="non-scaling-stroke"/><path d="M23.8,294.8 A2.9,2.9 0 0 0 29.6,294.8" fill="#f6f6f6" stroke="#6a6a6a" stroke-width="0.9" vector-effect="non-scaling-stroke"/><circle cx="26.7" cy="295.4" r="1.05" fill="#111"/><circle cx="5.3" cy="291.7" r="1.1" fill="#111"/><path d="M-10.3,315.59 H23.9 V318.39 H29.6 V323.49 H-4.6 V319.19 H-10.3 Q-11.1,319.19 -11.1,318.39 V316.39 Q-11.1,315.59 -10.3,315.59 Z" fill="#e9e9e9" stroke="#6a6a6a" stroke-width="0.9" vector-effect="non-scaling-stroke"/><path d="M23.8,323.49 A2.9,2.9 0 0 0 29.6,323.49" fill="#f6f6f6" stroke="#6a6a6a" stroke-width="0.9" vector-effect="non-scaling-stroke"/><circle cx="26.7" cy="324.09" r="1.05" fill="#111"/><circle cx="5.3" cy="320.39" r="1.1" fill="#111"/><path d="M-10.3,344.28 H23.9 V347.08 H29.6 V352.18 H-4.6 V347.88 H-10.3 Q-11.1,347.88 -11.1,347.08 V345.08 Q-11.1,344.28 -10.3,344.28 Z" fill="#e9e9e9" stroke="#6a6a6a" stroke-width="0.9" vector-effect="non-scaling-stroke"/><path d="M23.8,352.18 A2.9,2.9 0 0 0 29.6,352.18" fill="#f6f6f6" stroke="#6a6a6a" stroke-width="0.9" vector-effect="non-scaling-stroke"/><circle cx="26.7" cy="352.78" r="1.05" fill="#111"/><circle cx="5.3" cy="349.08" r="1.1" fill="#111"/></g><circle cx="1399.2" cy="130.8" r="1.7" fill="#111" stroke="none" stroke-width="1"/><circle cx="1399.2" cy="300.6" r="1.7" fill="#111" stroke="none" stroke-width="1"/><circle cx="1399.2" cy="497.3" r="1.7" fill="#111" stroke="none" stroke-width="1"/><circle cx="1420.9" cy="505.9" r="1.4" fill="#111" stroke="none" stroke-width="1"/><line x1="937.3" y1="130.8" x2="991" y2="130.8" stroke="#777" stroke-width="1.1" /><g transform="translate(925.9,114.6) scale(1)"><path d="M-8.8,9.7 V7.6 C-8.8,3.2 -5.2,0.3 -1.8,0 V5.3 H1.8 V0 C5.2,0.3 8.8,3.2 8.8,7.6 V9.7 Z" fill="#fff" stroke="#333" stroke-width="1.6" stroke-linejoin="round" vector-effect="non-scaling-stroke"/><path d="M-4.8,9.7 V40.8 L0,47.5 L4.8,40.8 V9.7 Z" fill="#fff" stroke="#333" stroke-width="1.6" stroke-linejoin="round" vector-effect="non-scaling-stroke"/><clipPath id="sc139897216859712"><path d="M-4.8,9.7 V40.8 L0,47.5 L4.8,40.8 V9.7 Z"/></clipPath><path d="M-4.8,9.2 L4.8,16.4 M-4.8,14.8 L4.8,22 M-4.8,20.4 L4.8,27.6 M-4.8,26 L4.8,33.2 M-4.8,31.6 L4.8,38.8 M-4.8,37.2 L4.8,44.4" stroke="#333" stroke-width="2.08" fill="none" clip-path="url(#sc139897216859712)" vector-effect="non-scaling-stroke"/><path d="M-4.8,9.7 V40.8 L0,47.5 L4.8,40.8 V9.7 Z" fill="none" stroke="#333" stroke-width="1.6" stroke-linejoin="round" vector-effect="non-scaling-stroke"/></g><line x1="1399.5" y1="130.8" x2="1452.3" y2="130.8" stroke="#777" stroke-width="1.1" /><g transform="translate(1463.9,114.6) scale(1)"><path d="M-8.8,9.7 V7.6 C-8.8,3.2 -5.2,0.3 -1.8,0 V5.3 H1.8 V0 C5.2,0.3 8.8,3.2 8.8,7.6 V9.7 Z" fill="#fff" stroke="#333" stroke-width="1.6" stroke-linejoin="round" vector-effect="non-scaling-stroke"/><path d="M-4.8,9.7 V40.8 L0,47.5 L4.8,40.8 V9.7 Z" fill="#fff" stroke="#333" stroke-width="1.6" stroke-linejoin="round" vector-effect="non-scaling-stroke"/><clipPath id="sc139897220393856"><path d="M-4.8,9.7 V40.8 L0,47.5 L4.8,40.8 V9.7 Z"/></clipPath><path d="M-4.8,9.2 L4.8,16.4 M-4.8,14.8 L4.8,22 M-4.8,20.4 L4.8,27.6 M-4.8,26 L4.8,33.2 M-4.8,31.6 L4.8,38.8 M-4.8,37.2 L4.8,44.4" stroke="#333" stroke-width="2.08" fill="none" clip-path="url(#sc139897220393856)" vector-effect="non-scaling-stroke"/><path d="M-4.8,9.7 V40.8 L0,47.5 L4.8,40.8 V9.7 Z" fill="none" stroke="#333" stroke-width="1.6" stroke-linejoin="round" vector-effect="non-scaling-stroke"/></g><line x1="937.3" y1="300.6" x2="991" y2="300.6" stroke="#777" stroke-width="1.1" /><g transform="translate(925.9,284.6) scale(1)"><path d="M-8.8,9.7 V7.6 C-8.8,3.2 -5.2,0.3 -1.8,0 V5.3 H1.8 V0 C5.2,0.3 8.8,3.2 8.8,7.6 V9.7 Z" fill="#fff" stroke="#333" stroke-width="1.6" stroke-linejoin="round" vector-effect="non-scaling-stroke"/><path d="M-4.8,9.7 V40.8 L0,47.5 L4.8,40.8 V9.7 Z" fill="#fff" stroke="#333" stroke-width="1.6" stroke-linejoin="round" vector-effect="non-scaling-stroke"/><clipPath id="sc139897216859712"><path d="M-4.8,9.7 V40.8 L0,47.5 L4.8,40.8 V9.7 Z"/></clipPath><path d="M-4.8,9.2 L4.8,16.4 M-4.8,14.8 L4.8,22 M-4.8,20.4 L4.8,27.6 M-4.8,26 L4.8,33.2 M-4.8,31.6 L4.8,38.8 M-4.8,37.2 L4.8,44.4" stroke="#333" stroke-width="2.08" fill="none" clip-path="url(#sc139897216859712)" vector-effect="non-scaling-stroke"/><path d="M-4.8,9.7 V40.8 L0,47.5 L4.8,40.8 V9.7 Z" fill="none" stroke="#333" stroke-width="1.6" stroke-linejoin="round" vector-effect="non-scaling-stroke"/></g><line x1="1399.5" y1="300.6" x2="1452.3" y2="300.6" stroke="#777" stroke-width="1.1" /><g transform="translate(1463.9,284.6) scale(1)"><path d="M-8.8,9.7 V7.6 C-8.8,3.2 -5.2,0.3 -1.8,0 V5.3 H1.8 V0 C5.2,0.3 8.8,3.2 8.8,7.6 V9.7 Z" fill="#fff" stroke="#333" stroke-width="1.6" stroke-linejoin="round" vector-effect="non-scaling-stroke"/><path d="M-4.8,9.7 V40.8 L0,47.5 L4.8,40.8 V9.7 Z" fill="#fff" stroke="#333" stroke-width="1.6" stroke-linejoin="round" vector-effect="non-scaling-stroke"/><clipPath id="sc139897220393856"><path d="M-4.8,9.7 V40.8 L0,47.5 L4.8,40.8 V9.7 Z"/></clipPath><path d="M-4.8,9.2 L4.8,16.4 M-4.8,14.8 L4.8,22 M-4.8,20.4 L4.8,27.6 M-4.8,26 L4.8,33.2 M-4.8,31.6 L4.8,38.8 M-4.8,37.2 L4.8,44.4" stroke="#333" stroke-width="2.08" fill="none" clip-path="url(#sc139897220393856)" vector-effect="non-scaling-stroke"/><path d="M-4.8,9.7 V40.8 L0,47.5 L4.8,40.8 V9.7 Z" fill="none" stroke="#333" stroke-width="1.6" stroke-linejoin="round" vector-effect="non-scaling-stroke"/></g><line x1="937.3" y1="497.3" x2="991" y2="497.3" stroke="#777" stroke-width="1.1" /><g transform="translate(925.9,480.6) scale(1)"><path d="M-8.8,9.7 V7.6 C-8.8,3.2 -5.2,0.3 -1.8,0 V5.3 H1.8 V0 C5.2,0.3 8.8,3.2 8.8,7.6 V9.7 Z" fill="#fff" stroke="#333" stroke-width="1.6" stroke-linejoin="round" vector-effect="non-scaling-stroke"/><path d="M-4.8,9.7 V40.8 L0,47.5 L4.8,40.8 V9.7 Z" fill="#fff" stroke="#333" stroke-width="1.6" stroke-linejoin="round" vector-effect="non-scaling-stroke"/><clipPath id="sc139897216859712"><path d="M-4.8,9.7 V40.8 L0,47.5 L4.8,40.8 V9.7 Z"/></clipPath><path d="M-4.8,9.2 L4.8,16.4 M-4.8,14.8 L4.8,22 M-4.8,20.4 L4.8,27.6 M-4.8,26 L4.8,33.2 M-4.8,31.6 L4.8,38.8 M-4.8,37.2 L4.8,44.4" stroke="#333" stroke-width="2.08" fill="none" clip-path="url(#sc139897216859712)" vector-effect="non-scaling-stroke"/><path d="M-4.8,9.7 V40.8 L0,47.5 L4.8,40.8 V9.7 Z" fill="none" stroke="#333" stroke-width="1.6" stroke-linejoin="round" vector-effect="non-scaling-stroke"/></g><line x1="1399.5" y1="497.3" x2="1452.3" y2="497.3" stroke="#777" stroke-width="1.1" /><g transform="translate(1463.9,480.6) scale(1)"><path d="M-8.8,9.7 V7.6 C-8.8,3.2 -5.2,0.3 -1.8,0 V5.3 H1.8 V0 C5.2,0.3 8.8,3.2 8.8,7.6 V9.7 Z" fill="#fff" stroke="#333" stroke-width="1.6" stroke-linejoin="round" vector-effect="non-scaling-stroke"/><path d="M-4.8,9.7 V40.8 L0,47.5 L4.8,40.8 V9.7 Z" fill="#fff" stroke="#333" stroke-width="1.6" stroke-linejoin="round" vector-effect="non-scaling-stroke"/><clipPath id="sc139897220393856"><path d="M-4.8,9.7 V40.8 L0,47.5 L4.8,40.8 V9.7 Z"/></clipPath><path d="M-4.8,9.2 L4.8,16.4 M-4.8,14.8 L4.8,22 M-4.8,20.4 L4.8,27.6 M-4.8,26 L4.8,33.2 M-4.8,31.6 L4.8,38.8 M-4.8,37.2 L4.8,44.4" stroke="#333" stroke-width="2.08" fill="none" clip-path="url(#sc139897220393856)" vector-effect="non-scaling-stroke"/><path d="M-4.8,9.7 V40.8 L0,47.5 L4.8,40.8 V9.7 Z" fill="none" stroke="#333" stroke-width="1.6" stroke-linejoin="round" vector-effect="non-scaling-stroke"/></g><rect x="1114.75" y="60.6" width="180.85" height="80.65" fill="#fff" stroke="#d6d6d6" stroke-width="1.2" /><line x1="1205.4" y1="60.6" x2="1205.4" y2="141.25" stroke="#d6d6d6" stroke-width="1.2" /><line x1="1114.75" y1="101" x2="1295.6" y2="101" stroke="#d6d6d6" stroke-width="1.2" /><text x="1133" y="79" font-family="Liberation Sans" font-size="19.5" font-weight="normal" fill="#2f86d0" text-anchor="start" textLength="53.2" lengthAdjust="spacingAndGlyphs">L max</text><text x="1223" y="79" font-family="Liberation Sans" font-size="19.5" font-weight="normal" fill="#2f86d0" text-anchor="start" textLength="53.8" lengthAdjust="spacingAndGlyphs">L max</text><text x="1135.2" y="96.5" font-family="Liberation Sans" font-size="20" font-weight="normal" fill="#5b3b26" text-anchor="start" textLength="50.6" lengthAdjust="spacingAndGlyphs">wood</text><text x="1239.4" y="96.5" font-family="Liberation Sans" font-size="19.5" font-weight="normal" fill="#cbc4c4" text-anchor="start" textLength="21.8" lengthAdjust="spacingAndGlyphs">AL</text><text x="1136" y="128.1" font-family="Liberation Sans" font-size="19" font-weight="normal" fill="#222" text-anchor="start" textLength="48" lengthAdjust="spacingAndGlyphs">1200</text><text x="1226" y="128.1" font-family="Liberation Sans" font-size="19" font-weight="normal" fill="#222" text-anchor="start" textLength="48.5" lengthAdjust="spacingAndGlyphs">2400</text><line x1="1112" y1="152.25" x2="1297" y2="152.25" stroke="#8a8a8a" stroke-width="1.4" /><path d="M1103.1,152.25 L1113.7,147.05 L1113.7,157.45 Z" fill="#222"/><path d="M1305.6,152.25 L1295,157.45 L1295,147.05 Z" fill="#222"/><path d="M1099,172.1 H1307.4 L1300.7,214.4 H1091.6 L1092.3,208.5 Z" fill="#fff" stroke="#7a7a7a" stroke-width="1.1" /><path d="M1092.3,208.5 H1299.63" fill="none" stroke="#777" stroke-width="1.1" /><path d="M1092,212.1 H1301.07" fill="none" stroke="#999" stroke-width="0.9" /><path d="M1306.6,172.7 L1299.63,208.5 L1299.9,214.4" fill="none" stroke="#8a8a8a" stroke-width="0.8" /><text x="1123" y="199.2" font-family="Liberation Sans" font-size="21.5" font-weight="normal" fill="#1e1e1e" text-anchor="start" textLength="9" lengthAdjust="spacingAndGlyphs">1</text><path d="M1094.6,225.3 H1302.1 L1295.4,267.4 H1086 L1087.1,261.4 Z" fill="#fff" stroke="#7a7a7a" stroke-width="1.1" /><path d="M1087.1,261.4 H1294.35" fill="none" stroke="#777" stroke-width="1.1" /><path d="M1086.8,265 H1295.78" fill="none" stroke="#999" stroke-width="0.9" /><path d="M1301.3,225.9 L1294.35,261.4 L1294.6,267.4" fill="none" stroke="#8a8a8a" stroke-width="0.8" /><text x="1114.2" y="252.8" font-family="Liberation Sans" font-size="21.5" font-weight="normal" fill="#1e1e1e" text-anchor="start" textLength="12.4" lengthAdjust="spacingAndGlyphs">2</text><path d="M1086.4,276.6 H1294 L1287.3,319 H1078.2 L1079.2,312.6 Z" fill="#fff" stroke="#7a7a7a" stroke-width="1.1" /><path d="M1079.2,312.6 H1286.31" fill="none" stroke="#777" stroke-width="1.1" /><path d="M1078.9,316.2 H1287.7" fill="none" stroke="#999" stroke-width="0.9" /><path d="M1293.2,277.2 L1286.31,312.6 L1286.5,319" fill="none" stroke="#8a8a8a" stroke-width="0.8" /><text x="1107" y="303.7" font-family="Liberation Sans" font-size="21.5" font-weight="normal" fill="#1e1e1e" text-anchor="start" textLength="31.4" lengthAdjust="spacingAndGlyphs">3...</text><path d="M1095.3,356.4 H1241.2 L1236.1,385.8 H1089 L1089.6,381.9 Z" fill="#fff" stroke="#7a7a7a" stroke-width="1.1" /><path d="M1089.6,381.9 H1234.78" fill="none" stroke="#777" stroke-width="1.1" /><path d="M1089.3,385.5 H1236.37" fill="none" stroke="#999" stroke-width="0.9" /><path d="M1240.4,357 L1234.78,381.9 L1235.3,385.8" fill="none" stroke="#8a8a8a" stroke-width="0.8" /><text x="1102.6" y="376" font-family="Liberation Sans" font-size="16" font-weight="normal" fill="#1e1e1e" text-anchor="start" textLength="17.6" lengthAdjust="spacingAndGlyphs">12</text><circle cx="1240.1" cy="376" r="14.3" fill="none" stroke="#1e1e1e" stroke-width="5"/><line x1="1228.2" y1="388.6" x2="1203" y2="410.5" stroke="#1e1e1e" stroke-width="3" /><path d="M1194.8,417.5 L1200.38,404.08 L1208.88,413.91 Z" fill="#1e1e1e"/><path d="M1118.3,408.8 L1184.3,415.6 M1124.7,407.3 L1184.3,414.2" fill="none" stroke="#777" stroke-width="0.9" /><path d="M1183.7,415.3 V487.9 M1183.7,415.3 H1191.1 V421 Q1191.1,423 1193,423 H1195.3 Q1197.3,423 1197.3,425 V493.5 Q1197.3,496.1 1194.7,496.1 H1191.1 V488.4 H1183.7" fill="none" stroke="#777" stroke-width="1" /><path d="M1121.2,477.8 L1183.7,487.6 M1123,476.3 L1183.7,486.2 M1126.5,486.7 L1191.1,496.1" fill="none" stroke="#777" stroke-width="0.9" /><path d="M1225,414.7 H1221 Q1217.9,414.7 1217.9,418 V487.9 H1225 V497.3 H1233.2 V425.5 Q1233.2,423 1230.7,423 H1225 Z" fill="none" stroke="#777" stroke-width="1" /><line x1="1225" y1="414.7" x2="1253" y2="414.7" stroke="#444" stroke-width="1.1" stroke-dasharray="3.2,3"/><line x1="1233.2" y1="497.3" x2="1253" y2="497.3" stroke="#444" stroke-width="1.1" stroke-dasharray="3.2,3"/><line x1="1217.9" y1="490" x2="1217.9" y2="534" stroke="#555" stroke-width="0.9" stroke-dasharray="3.2,3"/><line x1="1233.2" y1="499" x2="1233.2" y2="534" stroke="#555" stroke-width="0.9" stroke-dasharray="3.2,3"/><line x1="1250.1" y1="420" x2="1250.1" y2="492" stroke="#555" stroke-width="1" /><path d="M1250.1,414.9 L1254.6,423.4 L1245.6,423.4 Z" fill="#1e1e1e"/><path d="M1250.1,497.1 L1245.6,488.6 L1254.6,488.6 Z" fill="#1e1e1e"/><text x="1252.7" y="460" font-family="Liberation Sans" font-size="7.2" font-weight="normal" fill="#555" text-anchor="start" textLength="21" lengthAdjust="spacingAndGlyphs">95 mm</text><text x="1220.3" y="519.5" font-family="Liberation Sans" font-size="7.2" font-weight="normal" fill="#555" text-anchor="start" >20</text><text x="1220.3" y="527.5" font-family="Liberation Sans" font-size="7.2" font-weight="normal" fill="#555" text-anchor="start" >mm</text><line x1="280.3" y1="649.5" x2="280.3" y2="757.1" stroke="#8a8a8a" stroke-width="1.2" /><line x1="665.2" y1="647.5" x2="665.2" y2="735" stroke="#8a8a8a" stroke-width="1.2" /><line x1="292" y1="656.4" x2="652" y2="656.4" stroke="#666" stroke-width="1.2" /><path d="M281.3,656.4 L296.3,650.6 L296.3,662.2 Z" fill="#222"/><path d="M665.2,656.4 L649.5,662.2 L649.5,650.6 Z" fill="#222"/><text x="384.4" y="647.5" font-family="Liberation Sans" font-size="17.8" font-weight="bold" fill="#a9b5bd" text-anchor="start" textLength="151" lengthAdjust="spacingAndGlyphs">1070 (AL version)</text><g transform="translate(649.6,729.3) rotate(90) scale(0.81,1.076)"><rect x="0" y="-14.3" width="10.6" height="349.5" fill="#b9b9b9" stroke="#6a6a6a" stroke-width="0.9" vector-effect="non-scaling-stroke"/><rect x="23.9" y="-6.3" width="5.7" height="349.8" fill="#b9b9b9" stroke="#6a6a6a" stroke-width="0.9" vector-effect="non-scaling-stroke"/><path d="M-10.3,0 H23.9 V2.8 H29.6 V7.9 H-4.6 V3.6 H-10.3 Q-11.1,3.6 -11.1,2.8 V0.8 Q-11.1,0 -10.3,0 Z" fill="#e9e9e9" stroke="#6a6a6a" stroke-width="0.9" vector-effect="non-scaling-stroke"/><path d="M23.8,7.9 A2.9,2.9 0 0 0 29.6,7.9" fill="#f6f6f6" stroke="#6a6a6a" stroke-width="0.9" vector-effect="non-scaling-stroke"/><circle cx="26.7" cy="8.5" r="1.05" fill="#111"/><circle cx="5.3" cy="4.8" r="1.1" fill="#111"/><path d="M-10.3,28.69 H23.9 V31.49 H29.6 V36.59 H-4.6 V32.29 H-10.3 Q-11.1,32.29 -11.1,31.49 V29.49 Q-11.1,28.69 -10.3,28.69 Z" fill="#e9e9e9" stroke="#6a6a6a" stroke-width="0.9" vector-effect="non-scaling-stroke"/><path d="M23.8,36.59 A2.9,2.9 0 0 0 29.6,36.59" fill="#f6f6f6" stroke="#6a6a6a" stroke-width="0.9" vector-effect="non-scaling-stroke"/><circle cx="26.7" cy="37.19" r="1.05" fill="#111"/><circle cx="5.3" cy="33.49" r="1.1" fill="#111"/><path d="M-10.3,57.38 H23.9 V60.18 H29.6 V65.28 H-4.6 V60.98 H-10.3 Q-11.1,60.98 -11.1,60.18 V58.18 Q-11.1,57.38 -10.3,57.38 Z" fill="#e9e9e9" stroke="#6a6a6a" stroke-width="0.9" vector-effect="non-scaling-stroke"/><path d="M23.8,65.28 A2.9,2.9 0 0 0 29.6,65.28" fill="#f6f6f6" stroke="#6a6a6a" stroke-width="0.9" vector-effect="non-scaling-stroke"/><circle cx="26.7" cy="65.88" r="1.05" fill="#111"/><circle cx="5.3" cy="62.18" r="1.1" fill="#111"/><path d="M-10.3,86.07 H23.9 V88.87 H29.6 V93.97 H-4.6 V89.67 H-10.3 Q-11.1,89.67 -11.1,88.87 V86.87 Q-11.1,86.07 -10.3,86.07 Z" fill="#e9e9e9" stroke="#6a6a6a" stroke-width="0.9" vector-effect="non-scaling-stroke"/><path d="M23.8,93.97 A2.9,2.9 0 0 0 29.6,93.97" fill="#f6f6f6" stroke="#6a6a6a" stroke-width="0.9" vector-effect="non-scaling-stroke"/><circle cx="26.7" cy="94.57" r="1.05" fill="#111"/><circle cx="5.3" cy="90.87" r="1.1" fill="#111"/><path d="M-10.3,114.76 H23.9 V117.56 H29.6 V122.66 H-4.6 V118.36 H-10.3 Q-11.1,118.36 -11.1,117.56 V115.56 Q-11.1,114.76 -10.3,114.76 Z" fill="#e9e9e9" stroke="#6a6a6a" stroke-width="0.9" vector-effect="non-scaling-stroke"/><path d="M23.8,122.66 A2.9,2.9 0 0 0 29.6,122.66" fill="#f6f6f6" stroke="#6a6a6a" stroke-width="0.9" vector-effect="non-scaling-stroke"/><circle cx="26.7" cy="123.26" r="1.05" fill="#111"/><circle cx="5.3" cy="119.56" r="1.1" fill="#111"/><path d="M-10.3,143.45 H23.9 V146.25 H29.6 V151.35 H-4.6 V147.05 H-10.3 Q-11.1,147.05 -11.1,146.25 V144.25 Q-11.1,143.45 -10.3,143.45 Z" fill="#e9e9e9" stroke="#6a6a6a" stroke-width="0.9" vector-effect="non-scaling-stroke"/><path d="M23.8,151.35 A2.9,2.9 0 0 0 29.6,151.35" fill="#f6f6f6" stroke="#6a6a6a" stroke-width="0.9" vector-effect="non-scaling-stroke"/><circle cx="26.7" cy="151.95" r="1.05" fill="#111"/><circle cx="5.3" cy="148.25" r="1.1" fill="#111"/><path d="M-10.3,172.14 H23.9 V174.94 H29.6 V180.04 H-4.6 V175.74 H-10.3 Q-11.1,175.74 -11.1,174.94 V172.94 Q-11.1,172.14 -10.3,172.14 Z" fill="#e9e9e9" stroke="#6a6a6a" stroke-width="0.9" vector-effect="non-scaling-stroke"/><path d="M23.8,180.04 A2.9,2.9 0 0 0 29.6,180.04" fill="#f6f6f6" stroke="#6a6a6a" stroke-width="0.9" vector-effect="non-scaling-stroke"/><circle cx="26.7" cy="180.64" r="1.05" fill="#111"/><circle cx="5.3" cy="176.94" r="1.1" fill="#111"/><path d="M-10.3,200.83 H23.9 V203.63 H29.6 V208.73 H-4.6 V204.43 H-10.3 Q-11.1,204.43 -11.1,203.63 V201.63 Q-11.1,200.83 -10.3,200.83 Z" fill="#e9e9e9" stroke="#6a6a6a" stroke-width="0.9" vector-effect="non-scaling-stroke"/><path d="M23.8,208.73 A2.9,2.9 0 0 0 29.6,208.73" fill="#f6f6f6" stroke="#6a6a6a" stroke-width="0.9" vector-effect="non-scaling-stroke"/><circle cx="26.7" cy="209.33" r="1.05" fill="#111"/><circle cx="5.3" cy="205.63" r="1.1" fill="#111"/><path d="M-10.3,229.52 H23.9 V232.32 H29.6 V237.42 H-4.6 V233.12 H-10.3 Q-11.1,233.12 -11.1,232.32 V230.32 Q-11.1,229.52 -10.3,229.52 Z" fill="#e9e9e9" stroke="#6a6a6a" stroke-width="0.9" vector-effect="non-scaling-stroke"/><path d="M23.8,237.42 A2.9,2.9 0 0 0 29.6,237.42" fill="#f6f6f6" stroke="#6a6a6a" stroke-width="0.9" vector-effect="non-scaling-stroke"/><circle cx="26.7" cy="238.02" r="1.05" fill="#111"/><circle cx="5.3" cy="234.32" r="1.1" fill="#111"/><path d="M-10.3,258.21 H23.9 V261.01 H29.6 V266.11 H-4.6 V261.81 H-10.3 Q-11.1,261.81 -11.1,261.01 V259.01 Q-11.1,258.21 -10.3,258.21 Z" fill="#e9e9e9" stroke="#6a6a6a" stroke-width="0.9" vector-effect="non-scaling-stroke"/><path d="M23.8,266.11 A2.9,2.9 0 0 0 29.6,266.11" fill="#f6f6f6" stroke="#6a6a6a" stroke-width="0.9" vector-effect="non-scaling-stroke"/><circle cx="26.7" cy="266.71" r="1.05" fill="#111"/><circle cx="5.3" cy="263.01" r="1.1" fill="#111"/><path d="M-10.3,286.9 H23.9 V289.7 H29.6 V294.8 H-4.6 V290.5 H-10.3 Q-11.1,290.5 -11.1,289.7 V287.7 Q-11.1,286.9 -10.3,286.9 Z" fill="#e9e9e9" stroke="#6a6a6a" stroke-width="0.9" vector-effect="non-scaling-stroke"/><path d="M23.8,294.8 A2.9,2.9 0 0 0 29.6,294.8" fill="#f6f6f6" stroke="#6a6a6a" stroke-width="0.9" vector-effect="non-scaling-stroke"/><circle cx="26.7" cy="295.4" r="1.05" fill="#111"/><circle cx="5.3" cy="291.7" r="1.1" fill="#111"/><path d="M-10.3,315.59 H23.9 V318.39 H29.6 V323.49 H-4.6 V319.19 H-10.3 Q-11.1,319.19 -11.1,318.39 V316.39 Q-11.1,315.59 -10.3,315.59 Z" fill="#e9e9e9" stroke="#6a6a6a" stroke-width="0.9" vector-effect="non-scaling-stroke"/><path d="M23.8,323.49 A2.9,2.9 0 0 0 29.6,323.49" fill="#f6f6f6" stroke="#6a6a6a" stroke-width="0.9" vector-effect="non-scaling-stroke"/><circle cx="26.7" cy="324.09" r="1.05" fill="#111"/><circle cx="5.3" cy="320.39" r="1.1" fill="#111"/></g><circle cx="292.5" cy="733.4" r="1.7" fill="#111" stroke="none" stroke-width="1"/><circle cx="473.8" cy="733.4" r="1.7" fill="#111" stroke="none" stroke-width="1"/><circle cx="655.7" cy="733.6" r="1.7" fill="#111" stroke="none" stroke-width="1"/><circle cx="283.1" cy="751.8" r="1.5" fill="#111" stroke="none" stroke-width="1"/><rect x="286.1" y="774.6" width="380.5" height="4" fill="#232323" stroke="none" stroke-width="1" /><rect x="286.1" y="1045" width="380.5" height="3" fill="#232323" stroke="none" stroke-width="1" /><line x1="288.2" y1="777" x2="288.2" y2="1046" stroke="#333" stroke-width="1.8" /><line x1="319.63" y1="777" x2="319.63" y2="1046" stroke="#333" stroke-width="1.8" /><line x1="351.06" y1="777" x2="351.06" y2="1046" stroke="#333" stroke-width="1.8" /><line x1="382.49" y1="777" x2="382.49" y2="1046" stroke="#333" stroke-width="1.8" /><line x1="413.92" y1="777" x2="413.92" y2="1046" stroke="#333" stroke-width="1.8" /><line x1="445.35" y1="777" x2="445.35" y2="1046" stroke="#333" stroke-width="1.8" /><line x1="476.78" y1="777" x2="476.78" y2="1046" stroke="#333" stroke-width="1.8" /><line x1="508.21" y1="777" x2="508.21" y2="1046" stroke="#333" stroke-width="1.8" /><line x1="539.64" y1="777" x2="539.64" y2="1046" stroke="#333" stroke-width="1.8" /><line x1="571.07" y1="777" x2="571.07" y2="1046" stroke="#333" stroke-width="1.8" /><line x1="602.5" y1="777" x2="602.5" y2="1046" stroke="#333" stroke-width="1.8" /><line x1="633.93" y1="777" x2="633.93" y2="1046" stroke="#333" stroke-width="1.8" /><line x1="665.36" y1="777" x2="665.36" y2="1046" stroke="#333" stroke-width="1.8" /><text x="575.8" y="1033.3" font-family="Liberation Sans" font-size="17.5" font-weight="normal" fill="#222" text-anchor="start" textLength="18.8" lengthAdjust="spacingAndGlyphs">89</text><line x1="580" y1="1038.5" x2="594" y2="1038.5" stroke="#999" stroke-width="1" /><path d="M572.5,1038.5 L582,1035.9 L582,1041.1 Z" fill="#222"/><path d="M601.2,1038.5 L591.7,1041.1 L591.7,1035.9 Z" fill="#222"/><text x="489.65" y="1082.4" font-family="Liberation Sans" font-size="17.8" font-weight="bold" fill="#2f86cc" text-anchor="middle" textLength="180.2" lengthAdjust="spacingAndGlyphs">1 SEGMENT HEIGHT</text><g transform="translate(1020.3,695.4) scale(1.37,1.366)"><rect x="0" y="-32.43" width="10.6" height="251.32" fill="#b9b9b9" stroke="#6a6a6a" stroke-width="0.9" vector-effect="non-scaling-stroke"/><rect x="23.9" y="-22.84" width="5.7" height="250.66" fill="#b9b9b9" stroke="#6a6a6a" stroke-width="0.9" vector-effect="non-scaling-stroke"/><path d="M-10.3,0 H23.9 V2.8 H29.6 V7.9 H-4.6 V3.6 H-10.3 Q-11.1,3.6 -11.1,2.8 V0.8 Q-11.1,0 -10.3,0 Z" fill="#e9e9e9" stroke="#6a6a6a" stroke-width="0.9" vector-effect="non-scaling-stroke"/><path d="M23.8,7.9 A2.9,2.9 0 0 0 29.6,7.9" fill="#f6f6f6" stroke="#6a6a6a" stroke-width="0.9" vector-effect="non-scaling-stroke"/><circle cx="26.7" cy="8.5" r="1.05" fill="#111"/><circle cx="5.3" cy="4.8" r="1.1" fill="#111"/><path d="M-10.3,28.69 H23.9 V31.49 H29.6 V36.59 H-4.6 V32.29 H-10.3 Q-11.1,32.29 -11.1,31.49 V29.49 Q-11.1,28.69 -10.3,28.69 Z" fill="#e9e9e9" stroke="#6a6a6a" stroke-width="0.9" vector-effect="non-scaling-stroke"/><path d="M23.8,36.59 A2.9,2.9 0 0 0 29.6,36.59" fill="#f6f6f6" stroke="#6a6a6a" stroke-width="0.9" vector-effect="non-scaling-stroke"/><circle cx="26.7" cy="37.19" r="1.05" fill="#111"/><circle cx="5.3" cy="33.49" r="1.1" fill="#111"/><path d="M-10.3,57.38 H23.9 V60.18 H29.6 V65.28 H-4.6 V60.98 H-10.3 Q-11.1,60.98 -11.1,60.18 V58.18 Q-11.1,57.38 -10.3,57.38 Z" fill="#e9e9e9" stroke="#6a6a6a" stroke-width="0.9" vector-effect="non-scaling-stroke"/><path d="M23.8,65.28 A2.9,2.9 0 0 0 29.6,65.28" fill="#f6f6f6" stroke="#6a6a6a" stroke-width="0.9" vector-effect="non-scaling-stroke"/><circle cx="26.7" cy="65.88" r="1.05" fill="#111"/><circle cx="5.3" cy="62.18" r="1.1" fill="#111"/><path d="M-10.3,86.07 H23.9 V88.87 H29.6 V93.97 H-4.6 V89.67 H-10.3 Q-11.1,89.67 -11.1,88.87 V86.87 Q-11.1,86.07 -10.3,86.07 Z" fill="#e9e9e9" stroke="#6a6a6a" stroke-width="0.9" vector-effect="non-scaling-stroke"/><path d="M23.8,93.97 A2.9,2.9 0 0 0 29.6,93.97" fill="#f6f6f6" stroke="#6a6a6a" stroke-width="0.9" vector-effect="non-scaling-stroke"/><circle cx="26.7" cy="94.57" r="1.05" fill="#111"/><circle cx="5.3" cy="90.87" r="1.1" fill="#111"/><path d="M-10.3,114.76 H23.9 V117.56 H29.6 V122.66 H-4.6 V118.36 H-10.3 Q-11.1,118.36 -11.1,117.56 V115.56 Q-11.1,114.76 -10.3,114.76 Z" fill="#e9e9e9" stroke="#6a6a6a" stroke-width="0.9" vector-effect="non-scaling-stroke"/><path d="M23.8,122.66 A2.9,2.9 0 0 0 29.6,122.66" fill="#f6f6f6" stroke="#6a6a6a" stroke-width="0.9" vector-effect="non-scaling-stroke"/><circle cx="26.7" cy="123.26" r="1.05" fill="#111"/><circle cx="5.3" cy="119.56" r="1.1" fill="#111"/><path d="M-10.3,143.45 H23.9 V146.25 H29.6 V151.35 H-4.6 V147.05 H-10.3 Q-11.1,147.05 -11.1,146.25 V144.25 Q-11.1,143.45 -10.3,143.45 Z" fill="#e9e9e9" stroke="#6a6a6a" stroke-width="0.9" vector-effect="non-scaling-stroke"/><path d="M23.8,151.35 A2.9,2.9 0 0 0 29.6,151.35" fill="#f6f6f6" stroke="#6a6a6a" stroke-width="0.9" vector-effect="non-scaling-stroke"/><circle cx="26.7" cy="151.95" r="1.05" fill="#111"/><circle cx="5.3" cy="148.25" r="1.1" fill="#111"/><path d="M-10.3,172.14 H23.9 V174.94 H29.6 V180.04 H-4.6 V175.74 H-10.3 Q-11.1,175.74 -11.1,174.94 V172.94 Q-11.1,172.14 -10.3,172.14 Z" fill="#e9e9e9" stroke="#6a6a6a" stroke-width="0.9" vector-effect="non-scaling-stroke"/><path d="M23.8,180.04 A2.9,2.9 0 0 0 29.6,180.04" fill="#f6f6f6" stroke="#6a6a6a" stroke-width="0.9" vector-effect="non-scaling-stroke"/><circle cx="26.7" cy="180.64" r="1.05" fill="#111"/><circle cx="5.3" cy="176.94" r="1.1" fill="#111"/><path d="M-10.3,200.83 H23.9 V203.63 H29.6 V208.73 H-4.6 V204.43 H-10.3 Q-11.1,204.43 -11.1,203.63 V201.63 Q-11.1,200.83 -10.3,200.83 Z" fill="#e9e9e9" stroke="#6a6a6a" stroke-width="0.9" vector-effect="non-scaling-stroke"/><path d="M23.8,208.73 A2.9,2.9 0 0 0 29.6,208.73" fill="#f6f6f6" stroke="#6a6a6a" stroke-width="0.9" vector-effect="non-scaling-stroke"/><circle cx="26.7" cy="209.33" r="1.05" fill="#111"/><circle cx="5.3" cy="205.63" r="1.1" fill="#111"/></g><circle cx="1027.6" cy="687.5" r="2.5" fill="#151515" stroke="none" stroke-width="1"/><circle cx="1027.6" cy="918.7" r="2.5" fill="#151515" stroke="none" stroke-width="1"/><line x1="1021" y1="721.35" x2="1097.6" y2="721.35" stroke="#262626" stroke-width="1.6" stroke-dasharray="4,4.4"/><line x1="1021" y1="760.4" x2="1097.6" y2="760.4" stroke="#262626" stroke-width="1.6" stroke-dasharray="4,4.4"/><line x1="1021" y1="799.45" x2="1097.6" y2="799.45" stroke="#262626" stroke-width="1.6" stroke-dasharray="4,4.4"/><line x1="1021" y1="838.5" x2="1097.6" y2="838.5" stroke="#262626" stroke-width="1.6" stroke-dasharray="4,4.4"/><line x1="1021" y1="877.55" x2="1097.6" y2="877.55" stroke="#262626" stroke-width="1.6" stroke-dasharray="4,4.4"/><line x1="1021" y1="916.6" x2="1097.6" y2="916.6" stroke="#262626" stroke-width="1.6" stroke-dasharray="4,4.4"/><line x1="1021" y1="955.65" x2="1097.6" y2="955.65" stroke="#262626" stroke-width="1.6" stroke-dasharray="4,4.4"/><path d="M1143.5,812.7 L1192.3,859" fill="none" stroke="#9a9a9a" stroke-width="2" /><path d="M1140.9,811.5 L1150.5,806.2 Q1155,803.8 1159,804.5 Q1163,805.4 1166.5,808.6 L1197,839.5 Q1202.5,845.5 1198,851 L1190.5,859.5" fill="none" stroke="#222" stroke-width="2.7" stroke-linecap="round" stroke-linejoin="round"/><path d="M1191.5,860 L1196.5,864.5" fill="none" stroke="#2a2a2a" stroke-width="3.6" /><path d="M1197,865 Q1201,867 1207,874" fill="none" stroke="#222" stroke-width="4.8" stroke-linecap="round"/><path d="M1139.5,810 L1142.5,806.5" fill="none" stroke="#333" stroke-width="1.2" /><g transform="translate(1260.6,678.1) scale(1.37,1.366)"><rect x="0" y="-14.79" width="10.6" height="122.62" fill="#b9b9b9" stroke="#6a6a6a" stroke-width="0.9" vector-effect="non-scaling-stroke"/><rect x="23.9" y="-8.2" width="5.7" height="121.6" fill="#b9b9b9" stroke="#6a6a6a" stroke-width="0.9" vector-effect="non-scaling-stroke"/><path d="M-10.3,0 H23.9 V2.8 H29.6 V7.9 H-4.6 V3.6 H-10.3 Q-11.1,3.6 -11.1,2.8 V0.8 Q-11.1,0 -10.3,0 Z" fill="#e9e9e9" stroke="#6a6a6a" stroke-width="0.9" vector-effect="non-scaling-stroke"/><path d="M23.8,7.9 A2.9,2.9 0 0 0 29.6,7.9" fill="#f6f6f6" stroke="#6a6a6a" stroke-width="0.9" vector-effect="non-scaling-stroke"/><circle cx="26.7" cy="8.5" r="1.05" fill="#111"/><circle cx="5.3" cy="4.8" r="1.1" fill="#111"/><path d="M-10.3,28.69 H23.9 V31.49 H29.6 V36.59 H-4.6 V32.29 H-10.3 Q-11.1,32.29 -11.1,31.49 V29.49 Q-11.1,28.69 -10.3,28.69 Z" fill="#e9e9e9" stroke="#6a6a6a" stroke-width="0.9" vector-effect="non-scaling-stroke"/><path d="M23.8,36.59 A2.9,2.9 0 0 0 29.6,36.59" fill="#f6f6f6" stroke="#6a6a6a" stroke-width="0.9" vector-effect="non-scaling-stroke"/><circle cx="26.7" cy="37.19" r="1.05" fill="#111"/><circle cx="5.3" cy="33.49" r="1.1" fill="#111"/><path d="M-10.3,57.38 H23.9 V60.18 H29.6 V65.28 H-4.6 V60.98 H-10.3 Q-11.1,60.98 -11.1,60.18 V58.18 Q-11.1,57.38 -10.3,57.38 Z" fill="#e9e9e9" stroke="#6a6a6a" stroke-width="0.9" vector-effect="non-scaling-stroke"/><path d="M23.8,65.28 A2.9,2.9 0 0 0 29.6,65.28" fill="#f6f6f6" stroke="#6a6a6a" stroke-width="0.9" vector-effect="non-scaling-stroke"/><circle cx="26.7" cy="65.88" r="1.05" fill="#111"/><circle cx="5.3" cy="62.18" r="1.1" fill="#111"/><path d="M-10.3,86.07 H23.9 V88.87 H29.6 V93.97 H-4.6 V89.67 H-10.3 Q-11.1,89.67 -11.1,88.87 V86.87 Q-11.1,86.07 -10.3,86.07 Z" fill="#e9e9e9" stroke="#6a6a6a" stroke-width="0.9" vector-effect="non-scaling-stroke"/><path d="M23.8,93.97 A2.9,2.9 0 0 0 29.6,93.97" fill="#f6f6f6" stroke="#6a6a6a" stroke-width="0.9" vector-effect="non-scaling-stroke"/><circle cx="26.7" cy="94.57" r="1.05" fill="#111"/><circle cx="5.3" cy="90.87" r="1.1" fill="#111"/></g><circle cx="1267.7" cy="670.4" r="2.5" fill="#151515" stroke="none" stroke-width="1"/><circle cx="1267.7" cy="819.5" r="2.5" fill="#151515" stroke="none" stroke-width="1"/><circle cx="1298.1" cy="828.3" r="2.4" fill="#151515" stroke="none" stroke-width="1"/><g transform="translate(1260.6,873.7) scale(1.37,1.366)"><rect x="0" y="-14.42" width="10.6" height="94.14" fill="#b9b9b9" stroke="#6a6a6a" stroke-width="0.9" vector-effect="non-scaling-stroke"/><rect x="23.9" y="-6.52" width="5.7" height="95.68" fill="#b9b9b9" stroke="#6a6a6a" stroke-width="0.9" vector-effect="non-scaling-stroke"/><path d="M-10.3,0 H23.9 V2.8 H29.6 V7.9 H-4.6 V3.6 H-10.3 Q-11.1,3.6 -11.1,2.8 V0.8 Q-11.1,0 -10.3,0 Z" fill="#e9e9e9" stroke="#6a6a6a" stroke-width="0.9" vector-effect="non-scaling-stroke"/><path d="M23.8,7.9 A2.9,2.9 0 0 0 29.6,7.9" fill="#f6f6f6" stroke="#6a6a6a" stroke-width="0.9" vector-effect="non-scaling-stroke"/><circle cx="26.7" cy="8.5" r="1.05" fill="#111"/><circle cx="5.3" cy="4.8" r="1.1" fill="#111"/><path d="M-10.3,28.69 H23.9 V31.49 H29.6 V36.59 H-4.6 V32.29 H-10.3 Q-11.1,32.29 -11.1,31.49 V29.49 Q-11.1,28.69 -10.3,28.69 Z" fill="#e9e9e9" stroke="#6a6a6a" stroke-width="0.9" vector-effect="non-scaling-stroke"/><path d="M23.8,36.59 A2.9,2.9 0 0 0 29.6,36.59" fill="#f6f6f6" stroke="#6a6a6a" stroke-width="0.9" vector-effect="non-scaling-stroke"/><circle cx="26.7" cy="37.19" r="1.05" fill="#111"/><circle cx="5.3" cy="33.49" r="1.1" fill="#111"/><path d="M-10.3,57.38 H23.9 V60.18 H29.6 V65.28 H-4.6 V60.98 H-10.3 Q-11.1,60.98 -11.1,60.18 V58.18 Q-11.1,57.38 -10.3,57.38 Z" fill="#e9e9e9" stroke="#6a6a6a" stroke-width="0.9" vector-effect="non-scaling-stroke"/><path d="M23.8,65.28 A2.9,2.9 0 0 0 29.6,65.28" fill="#f6f6f6" stroke="#6a6a6a" stroke-width="0.9" vector-effect="non-scaling-stroke"/><circle cx="26.7" cy="65.88" r="1.05" fill="#111"/><circle cx="5.3" cy="62.18" r="1.1" fill="#111"/></g><circle cx="1267.7" cy="861.3" r="2.5" fill="#151515" stroke="none" stroke-width="1"/><circle cx="1297" cy="869.6" r="2.4" fill="#151515" stroke="none" stroke-width="1"/><rect x="1284.2" y="822.2" width="6.5" height="11.4" rx="2" fill="#fff" stroke="#777" stroke-width="0.9" /><rect x="1284.2" y="861.3" width="6.5" height="10" rx="2" fill="#fff" stroke="#777" stroke-width="0.9" /><rect x="1309" y="822.4" width="13.5" height="53.1" rx="6.75" fill="#fff" stroke="#555" stroke-width="1" /><circle cx="1315.75" cy="828.65" r="2.5" fill="#1a1a1a" stroke="none" stroke-width="1"/><circle cx="1315.75" cy="869.25" r="2.5" fill="#1a1a1a" stroke="none" stroke-width="1"/><rect x="1328.4" y="825.4" width="24.7" height="5.3" fill="#c4c4c4" stroke="#666" stroke-width="0.8" /><path d="M1330,825.4 V830.7 M1331.9,825.4 V830.7 M1333.8,825.4 V830.7 M1335.7,825.4 V830.7 M1337.6,825.4 V830.7 M1339.5,825.4 V830.7 M1341.4,825.4 V830.7 M1343.3,825.4 V830.7 M1345.2,825.4 V830.7 M1347.1,825.4 V830.7 M1349,825.4 V830.7 M1350.9,825.4 V830.7" fill="none" stroke="#7a7a7a" stroke-width="0.7" /><rect x="1353.1" y="822.2" width="5.6" height="11.4" rx="1" fill="#fff" stroke="#666" stroke-width="0.9" /><rect x="1328.4" y="867.4" width="24.7" height="5.3" fill="#c4c4c4" stroke="#666" stroke-width="0.8" /><path d="M1330,867.4 V872.7 M1331.9,867.4 V872.7 M1333.8,867.4 V872.7 M1335.7,867.4 V872.7 M1337.6,867.4 V872.7 M1339.5,867.4 V872.7 M1341.4,867.4 V872.7 M1343.3,867.4 V872.7 M1345.2,867.4 V872.7 M1347.1,867.4 V872.7 M1349,867.4 V872.7 M1350.9,867.4 V872.7" fill="none" stroke="#7a7a7a" stroke-width="0.7" /><rect x="1353.1" y="864.2" width="5.6" height="11.4" rx="1" fill="#fff" stroke="#666" stroke-width="0.9" /><text x="1180.65" y="1059.3" font-family="Liberation Sans" font-size="17.8" font-weight="bold" fill="#2f86cc" text-anchor="middle" textLength="175.2" lengthAdjust="spacingAndGlyphs">MODULAR SYSTEM</text><text x="1177.9" y="1079.7" font-family="Liberation Sans" font-size="17.8" font-weight="bold" fill="#2f86cc" text-anchor="middle" textLength="216.2" lengthAdjust="spacingAndGlyphs">- SEGMENTS STACKING</text></svg></body></html>
